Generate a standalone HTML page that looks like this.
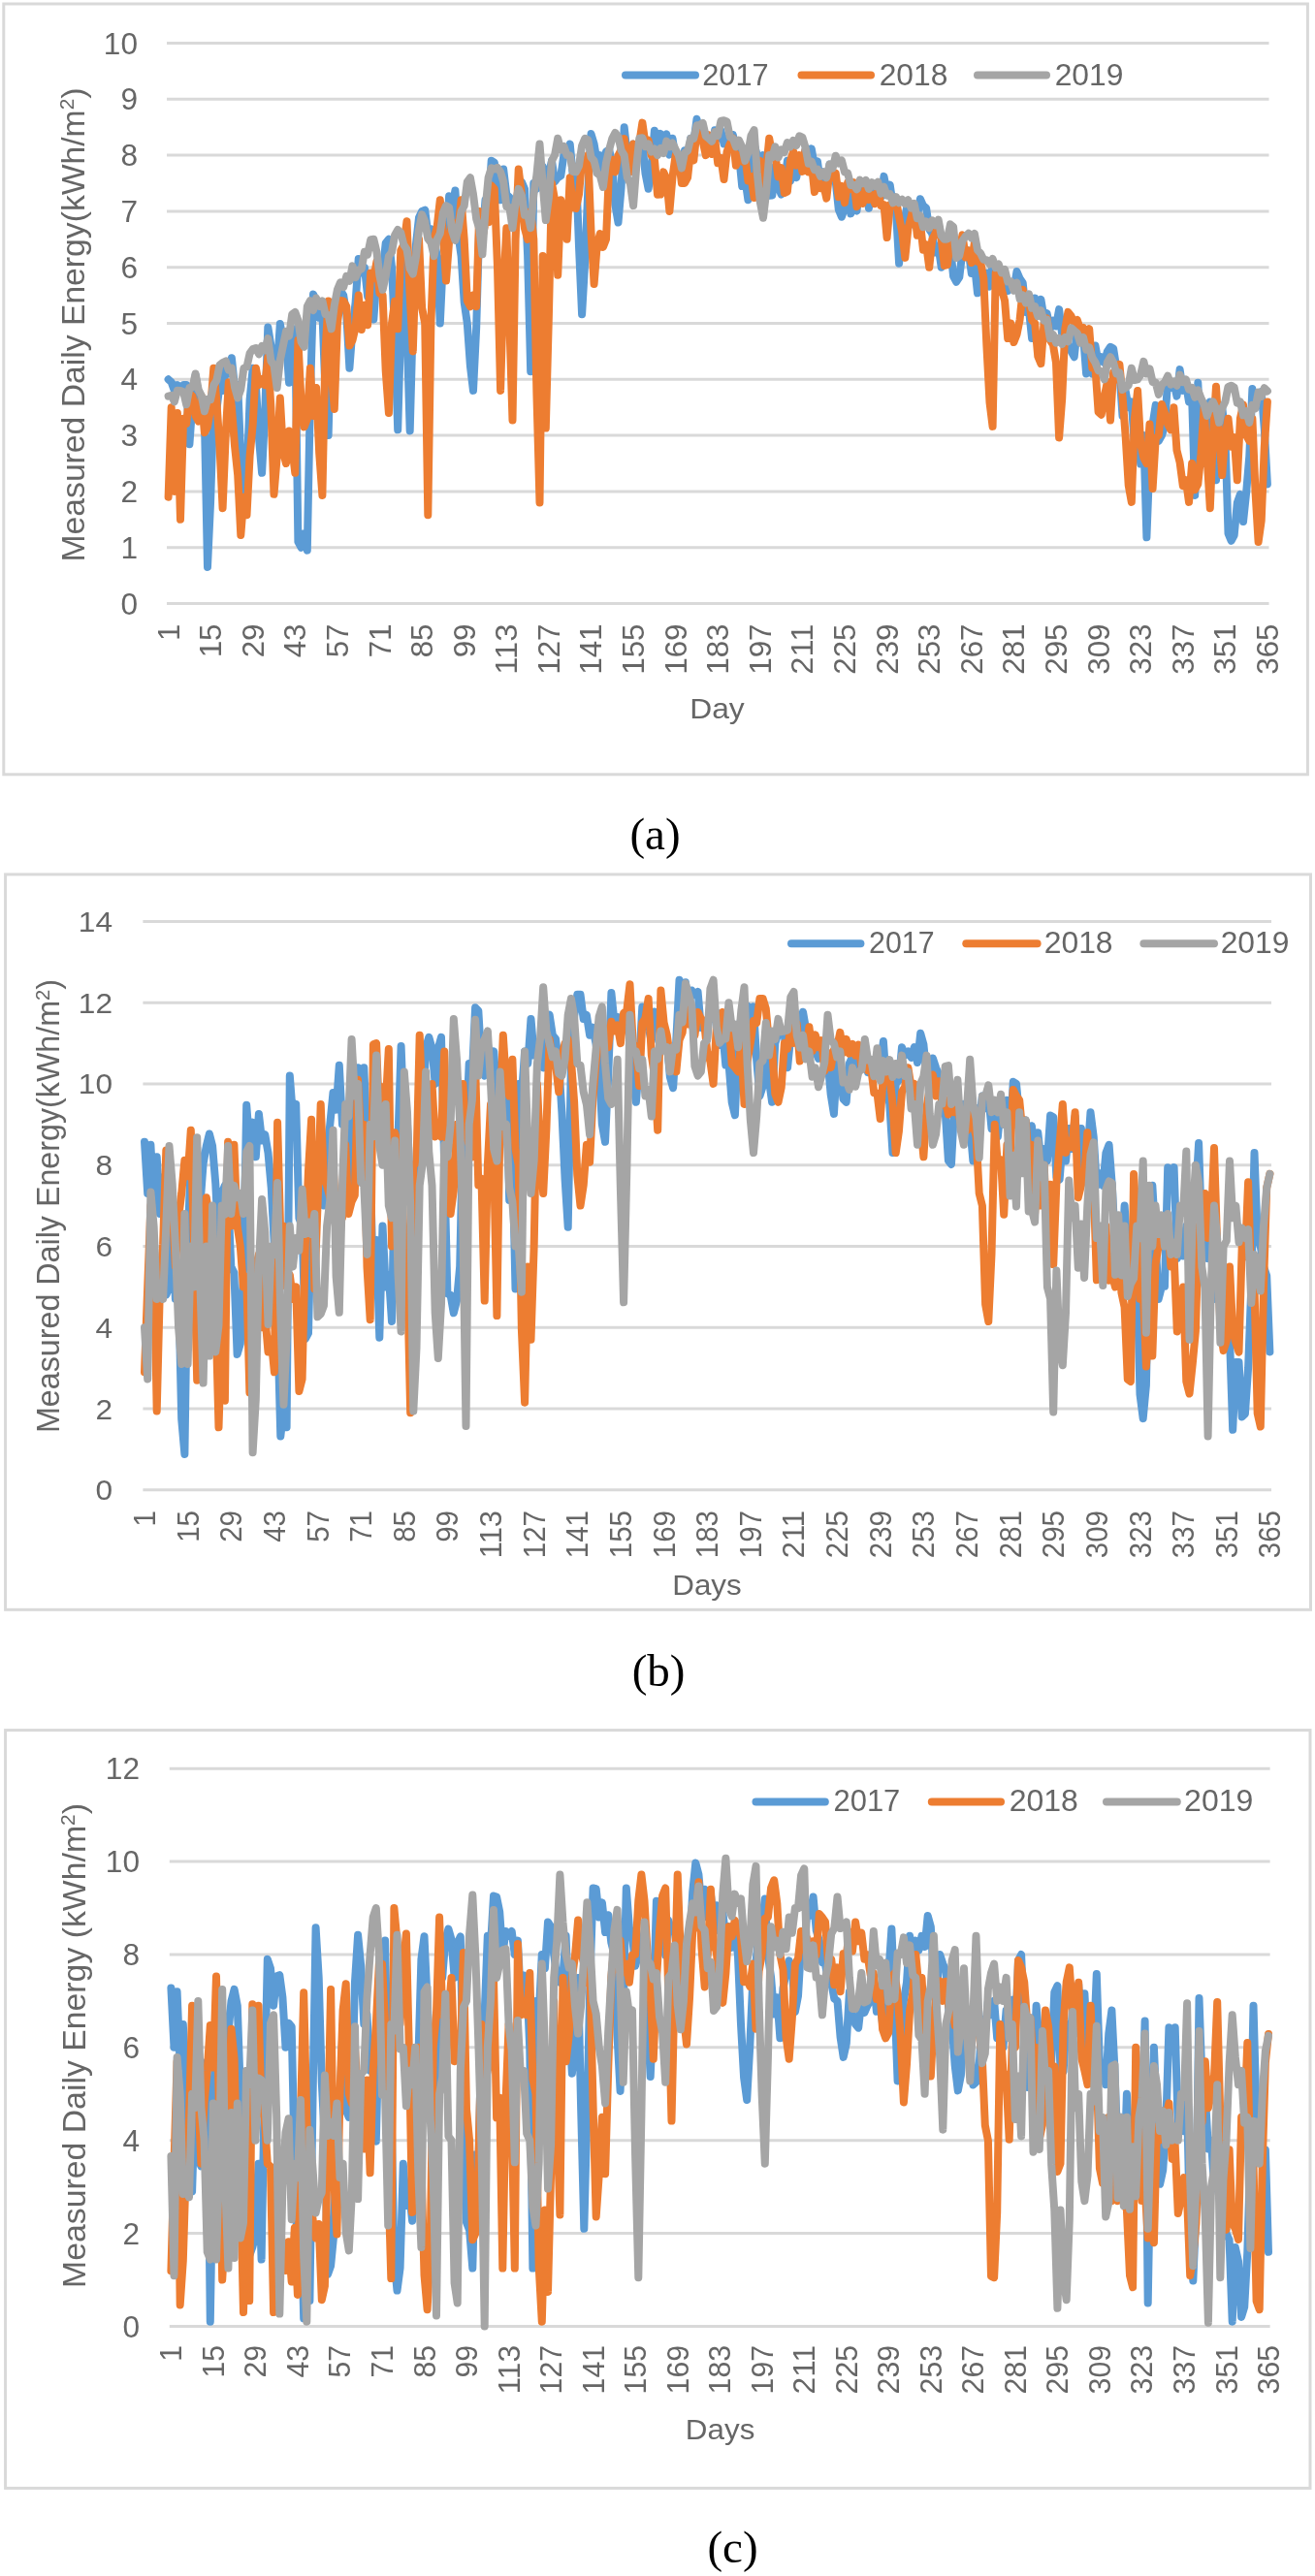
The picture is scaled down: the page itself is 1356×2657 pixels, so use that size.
<!DOCTYPE html>
<html><head><meta charset="utf-8"><title>Measured Daily Energy</title>
<style>html,body{margin:0;padding:0;background:#fff;}svg{display:block;}</style></head>
<body>
<svg width="1356" height="2657" viewBox="0 0 1356 2657" style="filter:blur(0.45px)">
<rect x="0" y="0" width="1356" height="2657" fill="#fff"/>
<rect x="3.8" y="4.0" width="1344.6000000000001" height="794.8" fill="#fff" stroke="#D9D9D9" stroke-width="3"/>
<line x1="172" y1="622.50" x2="1308.5" y2="622.50" stroke="#D9D9D9" stroke-width="3"/>
<text x="142" y="633.50" text-anchor="end" font-family="Liberation Sans, sans-serif" font-size="31.5" fill="#666666" textLength="17.6" lengthAdjust="spacingAndGlyphs">0</text>
<line x1="172" y1="564.70" x2="1308.5" y2="564.70" stroke="#D9D9D9" stroke-width="3"/>
<text x="142" y="575.70" text-anchor="end" font-family="Liberation Sans, sans-serif" font-size="31.5" fill="#666666" textLength="17.6" lengthAdjust="spacingAndGlyphs">1</text>
<line x1="172" y1="506.90" x2="1308.5" y2="506.90" stroke="#D9D9D9" stroke-width="3"/>
<text x="142" y="517.90" text-anchor="end" font-family="Liberation Sans, sans-serif" font-size="31.5" fill="#666666" textLength="17.6" lengthAdjust="spacingAndGlyphs">2</text>
<line x1="172" y1="449.10" x2="1308.5" y2="449.10" stroke="#D9D9D9" stroke-width="3"/>
<text x="142" y="460.10" text-anchor="end" font-family="Liberation Sans, sans-serif" font-size="31.5" fill="#666666" textLength="17.6" lengthAdjust="spacingAndGlyphs">3</text>
<line x1="172" y1="391.30" x2="1308.5" y2="391.30" stroke="#D9D9D9" stroke-width="3"/>
<text x="142" y="402.30" text-anchor="end" font-family="Liberation Sans, sans-serif" font-size="31.5" fill="#666666" textLength="17.6" lengthAdjust="spacingAndGlyphs">4</text>
<line x1="172" y1="333.50" x2="1308.5" y2="333.50" stroke="#D9D9D9" stroke-width="3"/>
<text x="142" y="344.50" text-anchor="end" font-family="Liberation Sans, sans-serif" font-size="31.5" fill="#666666" textLength="17.6" lengthAdjust="spacingAndGlyphs">5</text>
<line x1="172" y1="275.70" x2="1308.5" y2="275.70" stroke="#D9D9D9" stroke-width="3"/>
<text x="142" y="286.70" text-anchor="end" font-family="Liberation Sans, sans-serif" font-size="31.5" fill="#666666" textLength="17.6" lengthAdjust="spacingAndGlyphs">6</text>
<line x1="172" y1="217.90" x2="1308.5" y2="217.90" stroke="#D9D9D9" stroke-width="3"/>
<text x="142" y="228.90" text-anchor="end" font-family="Liberation Sans, sans-serif" font-size="31.5" fill="#666666" textLength="17.6" lengthAdjust="spacingAndGlyphs">7</text>
<line x1="172" y1="160.10" x2="1308.5" y2="160.10" stroke="#D9D9D9" stroke-width="3"/>
<text x="142" y="171.10" text-anchor="end" font-family="Liberation Sans, sans-serif" font-size="31.5" fill="#666666" textLength="17.6" lengthAdjust="spacingAndGlyphs">8</text>
<line x1="172" y1="102.30" x2="1308.5" y2="102.30" stroke="#D9D9D9" stroke-width="3"/>
<text x="142" y="113.30" text-anchor="end" font-family="Liberation Sans, sans-serif" font-size="31.5" fill="#666666" textLength="17.6" lengthAdjust="spacingAndGlyphs">9</text>
<line x1="172" y1="44.50" x2="1308.5" y2="44.50" stroke="#D9D9D9" stroke-width="3"/>
<text x="142" y="55.50" text-anchor="end" font-family="Liberation Sans, sans-serif" font-size="31.5" fill="#666666" textLength="35.2" lengthAdjust="spacingAndGlyphs">10</text>
<polyline points="173.6,391.3 176.7,394.2 179.8,402.9 182.9,397.1 186.0,402.9 189.1,397.1 192.2,397.1 195.4,458.3 198.5,414.4 201.6,386.9 204.7,408.6 207.8,426.0 210.9,431.8 214.0,584.9 217.1,517.4 220.3,417.3 223.4,423.1 226.5,397.1 229.6,402.9 232.7,379.7 235.8,385.5 238.9,369.3 242.1,400.3 245.2,397.1 248.3,471.3 251.4,506.9 254.5,489.6 257.6,412.4 260.7,379.7 263.9,397.1 267.0,452.0 270.1,487.8 273.2,426.0 276.3,337.5 279.4,356.6 282.5,365.7 285.6,382.6 288.8,334.1 291.9,350.8 295.0,352.4 298.1,394.8 301.2,358.5 304.3,339.3 307.4,558.9 310.6,564.7 313.7,550.2 316.8,567.6 319.9,410.1 323.0,303.4 326.1,310.4 329.2,327.7 332.4,321.9 335.5,404.5 338.6,449.1 341.7,333.5 344.8,311.3 347.9,310.4 351.0,299.4 354.2,304.6 357.3,324.7 360.4,379.7 363.5,339.3 366.6,312.0 369.7,267.0 372.8,281.5 375.9,275.7 379.1,305.8 382.2,303.2 385.3,329.5 388.4,286.3 391.5,275.7 394.6,281.5 397.7,250.8 400.9,246.8 404.0,275.7 407.1,342.3 410.2,443.3 413.3,334.3 416.4,264.1 419.5,337.4 422.7,444.5 425.8,328.7 428.9,252.6 432.0,224.5 435.1,217.9 438.2,216.6 441.3,241.0 444.4,236.1 447.6,246.8 450.7,264.2 453.8,333.5 456.9,266.7 460.0,266.7 463.1,202.3 466.2,213.6 469.4,196.5 472.5,242.3 475.6,264.1 478.7,311.9 481.8,333.5 484.9,377.3 488.0,402.9 491.2,337.9 494.3,229.5 497.4,245.1 500.5,206.3 503.6,212.1 506.7,165.7 509.8,167.6 513.0,189.0 516.1,206.3 519.2,174.6 522.3,200.6 525.4,203.5 528.5,217.9 531.6,206.3 534.7,212.1 537.9,187.6 541.0,194.8 544.1,263.3 547.2,383.2 550.3,189.0 553.4,194.8 556.5,168.3 559.7,171.7 562.8,209.8 565.9,179.2 569.0,165.9 572.1,187.3 575.2,183.2 578.3,181.4 581.5,159.2 584.6,160.1 587.7,148.5 590.8,181.2 593.9,171.7 597.0,254.1 600.1,324.3 603.2,269.9 606.4,194.2 609.5,138.1 612.6,148.5 615.7,166.7 618.8,160.1 621.9,175.7 625.0,156.3 628.2,154.3 631.3,169.4 634.4,211.4 637.5,229.5 640.6,193.5 643.7,131.2 646.8,160.1 650.0,177.4 653.1,148.5 656.2,160.1 659.3,158.2 662.4,148.5 665.5,178.9 668.6,194.8 671.7,172.6 674.9,134.7 678.0,155.1 681.1,137.9 684.2,148.5 687.3,138.3 690.4,159.6 693.5,142.8 696.7,163.5 699.8,160.4 702.9,183.2 706.0,155.2 709.1,168.4 712.2,142.8 715.3,146.8 718.5,122.8 721.6,137.0 724.7,131.6 727.8,148.6 730.9,142.8 734.0,156.4 737.1,134.2 740.2,142.8 743.4,134.5 746.5,148.4 749.6,142.8 752.7,152.5 755.8,139.0 758.9,154.3 762.0,159.7 765.2,192.0 768.3,184.3 771.4,206.3 774.5,167.5 777.6,148.5 780.7,160.1 783.8,183.8 787.0,160.1 790.1,192.3 793.2,201.7 796.3,201.4 799.4,171.7 802.5,193.0 805.6,200.6 808.8,189.8 811.9,165.9 815.0,186.8 818.1,163.3 821.2,183.2 824.3,165.9 827.4,171.0 830.5,154.3 833.7,173.3 836.8,153.4 839.9,171.7 843.0,166.5 846.1,191.1 849.2,177.4 852.3,194.2 855.5,169.6 858.6,183.2 861.7,187.1 864.8,216.2 867.9,223.7 871.0,214.5 874.1,194.8 877.3,220.4 880.4,214.4 883.5,217.4 886.6,192.3 889.7,200.6 892.8,192.8 895.9,214.7 899.0,188.9 902.2,200.6 905.3,190.4 908.4,203.5 911.5,181.9 914.6,198.3 917.7,190.7 920.8,211.8 924.0,217.9 927.1,271.7 930.2,236.5 933.3,223.7 936.4,207.2 939.5,231.6 942.6,217.9 945.8,224.0 948.9,205.2 952.0,212.1 955.1,214.6 958.2,236.4 961.3,241.0 964.4,260.5 967.6,254.2 970.7,275.7 973.8,255.7 976.9,246.8 980.0,254.6 983.1,285.1 986.2,290.7 989.3,285.9 992.5,258.4 995.6,264.7 998.7,258.4 1001.8,282.0 1004.9,272.7 1008.0,302.3 1011.1,275.7 1014.3,294.6 1017.4,281.5 1020.5,295.7 1023.6,272.6 1026.7,287.3 1029.8,277.7 1032.9,297.6 1036.1,293.0 1039.2,300.2 1042.3,291.8 1045.4,298.8 1048.5,280.0 1051.6,287.3 1054.7,291.8 1057.8,321.9 1061.0,319.8 1064.1,349.1 1067.2,307.5 1070.3,319.3 1073.4,308.9 1076.5,327.7 1079.6,323.2 1082.8,339.3 1085.9,330.6 1089.0,336.4 1092.1,319.1 1095.2,345.3 1098.3,339.3 1101.4,356.5 1104.6,362.4 1107.7,368.2 1110.8,339.3 1113.9,350.8 1117.0,345.1 1120.1,385.5 1123.2,379.7 1126.3,385.5 1129.5,356.6 1132.6,374.0 1135.7,368.2 1138.8,374.0 1141.9,362.4 1145.0,357.8 1148.1,359.5 1151.3,379.7 1154.4,384.0 1157.5,428.9 1160.6,402.9 1163.7,420.2 1166.8,414.4 1169.9,459.5 1173.1,441.8 1176.2,478.6 1179.3,449.1 1182.4,554.3 1185.5,473.7 1188.6,437.5 1191.7,417.9 1194.8,454.9 1198.0,449.1 1201.1,439.4 1204.2,391.3 1207.3,400.0 1210.4,394.2 1213.5,408.6 1216.6,381.1 1219.8,402.9 1222.9,395.5 1226.0,414.4 1229.1,408.6 1232.2,510.9 1235.3,394.8 1238.4,462.3 1241.6,478.0 1244.7,470.0 1247.8,414.4 1250.9,475.9 1254.0,495.3 1257.1,420.2 1260.2,419.8 1263.4,449.1 1266.5,550.2 1269.6,557.8 1272.7,552.0 1275.8,518.5 1278.9,509.9 1282.0,538.1 1285.1,508.6 1288.3,470.7 1291.4,401.1 1294.5,420.2 1297.6,414.4 1300.7,404.0 1303.8,442.4 1306.9,499.4" fill="none" stroke="#5B9BD5" stroke-width="8" stroke-linejoin="round" stroke-linecap="round"/>
<polyline points="173.6,512.7 176.7,420.2 179.8,506.9 182.9,426.0 186.0,535.8 189.1,431.8 192.2,437.0 195.4,405.8 198.5,408.6 201.6,428.9 204.7,434.6 207.8,408.6 210.9,446.2 214.0,440.4 217.1,421.6 220.3,379.7 223.4,414.4 226.5,460.4 229.6,524.2 232.7,449.1 235.8,394.2 238.9,420.2 242.1,460.7 245.2,490.1 248.3,552.0 251.4,512.7 254.5,531.2 257.6,470.1 260.7,437.5 263.9,379.7 267.0,397.1 270.1,391.3 273.2,397.1 276.3,368.2 279.4,420.2 282.5,509.8 285.6,472.2 288.8,410.4 291.9,465.0 295.0,478.0 298.1,444.5 301.2,460.7 304.3,487.8 307.4,350.8 310.6,415.6 313.7,440.4 316.8,432.1 319.9,379.7 323.0,428.9 326.1,400.0 329.2,467.1 332.4,510.9 335.5,362.4 338.6,310.4 341.7,383.7 344.8,421.9 347.9,333.5 351.0,310.0 354.2,310.4 357.3,316.2 360.4,356.6 363.5,350.8 366.6,337.6 369.7,304.6 372.8,340.0 375.9,314.8 379.1,335.2 382.2,281.5 385.3,287.3 388.4,269.9 391.5,302.7 394.6,304.6 397.7,382.1 400.9,426.0 404.0,333.5 407.1,310.7 410.2,339.3 413.3,258.4 416.4,252.4 419.5,228.3 422.7,305.3 425.8,362.4 428.9,264.1 432.0,246.8 435.1,317.3 438.2,333.5 441.3,531.2 444.4,333.5 447.6,246.8 450.7,233.8 453.8,206.3 456.9,241.0 460.0,289.6 463.1,249.0 466.2,229.5 469.4,230.6 472.5,235.2 475.6,206.3 478.7,246.8 481.8,310.4 484.9,316.2 488.0,304.6 491.2,316.2 494.3,217.9 497.4,245.1 500.5,229.5 503.6,229.3 506.7,191.3 509.8,194.8 513.0,275.7 516.1,402.9 519.2,297.8 522.3,235.2 525.4,333.5 528.5,433.5 531.6,246.8 534.7,174.6 537.9,200.6 541.0,235.7 544.1,246.8 547.2,217.9 550.3,246.8 553.4,405.4 556.5,518.5 559.7,264.1 562.8,441.6 565.9,325.0 569.0,189.0 572.1,206.3 575.2,283.8 578.3,206.3 581.5,219.3 584.6,246.8 587.7,183.2 590.8,214.2 593.9,215.0 597.0,200.5 600.1,165.9 603.2,173.3 606.4,160.1 609.5,239.0 612.6,293.0 615.7,252.6 618.8,241.0 621.9,254.9 625.0,246.8 628.2,171.7 631.3,164.7 634.4,177.4 637.5,160.3 640.6,154.3 643.7,143.2 646.8,160.1 650.0,177.4 653.1,148.5 656.2,160.1 659.3,147.2 662.4,126.6 665.5,148.5 668.6,144.8 671.7,160.1 674.9,164.0 678.0,200.7 681.1,200.6 684.2,177.4 687.3,184.3 690.4,217.9 693.5,182.4 696.7,160.1 699.8,161.7 702.9,189.0 706.0,189.0 709.1,183.1 712.2,154.3 715.3,165.5 718.5,135.3 721.6,142.8 724.7,145.9 727.8,160.1 730.9,139.1 734.0,159.0 737.1,142.8 740.2,168.3 743.4,163.0 746.5,185.0 749.6,156.4 752.7,148.5 755.8,142.5 758.9,170.8 762.0,160.1 765.2,166.5 768.3,160.1 771.4,186.6 774.5,182.0 777.6,204.0 780.7,171.3 783.8,165.9 787.0,207.5 790.1,175.1 793.2,142.8 796.3,160.8 799.4,160.1 802.5,182.4 805.6,173.1 808.8,199.1 811.9,197.7 815.0,165.9 818.1,156.2 821.2,170.7 824.3,160.1 827.4,176.9 830.5,154.8 833.7,177.4 836.8,168.3 839.9,198.1 843.0,183.2 846.1,194.2 849.2,190.7 852.3,204.6 855.5,176.1 858.6,183.2 861.7,178.6 864.8,203.3 867.9,191.9 871.0,209.1 874.1,188.5 877.3,194.8 880.4,188.2 883.5,213.2 886.6,200.6 889.7,209.9 892.8,192.4 895.9,205.9 899.0,200.6 902.2,210.1 905.3,195.6 908.4,212.1 911.5,211.4 914.6,245.1 917.7,211.3 920.8,212.1 924.0,206.6 927.1,223.7 930.2,239.3 933.3,265.9 936.4,235.7 939.5,223.7 942.6,210.8 945.8,242.8 948.9,229.5 952.0,257.8 955.1,252.3 958.2,275.7 961.3,246.8 964.4,241.0 967.6,232.9 970.7,246.8 973.8,274.0 976.9,273.2 980.0,246.8 983.1,259.0 986.2,248.5 989.3,258.4 992.5,242.3 995.6,265.5 998.7,258.4 1001.8,271.0 1004.9,250.3 1008.0,269.9 1011.1,270.0 1014.3,287.3 1017.4,356.6 1020.5,414.9 1023.6,439.9 1026.7,281.5 1029.8,278.7 1032.9,298.8 1036.1,310.3 1039.2,349.1 1042.3,333.5 1045.4,353.0 1048.5,345.1 1051.6,329.7 1054.7,298.8 1057.8,313.3 1061.0,310.4 1064.1,330.2 1067.2,333.5 1070.3,367.8 1073.4,375.1 1076.5,333.5 1079.6,328.5 1082.8,350.8 1085.9,355.6 1089.0,374.0 1092.1,451.4 1095.2,411.3 1098.3,339.3 1101.4,321.9 1104.6,326.0 1107.7,333.5 1110.8,330.0 1113.9,339.3 1117.0,337.9 1120.1,345.1 1123.2,339.3 1126.3,379.5 1129.5,379.7 1132.6,425.0 1135.7,427.7 1138.8,408.6 1141.9,393.8 1145.0,433.5 1148.1,384.3 1151.3,391.3 1154.4,375.9 1157.5,408.6 1160.6,449.1 1163.7,500.6 1166.8,517.9 1169.9,431.8 1173.1,402.9 1176.2,458.1 1179.3,472.2 1182.4,478.0 1185.5,437.5 1188.6,504.0 1191.7,451.9 1194.8,449.1 1198.0,417.1 1201.1,426.0 1204.2,437.5 1207.3,443.3 1210.4,420.2 1213.5,464.6 1216.6,476.8 1219.8,501.1 1222.9,495.3 1226.0,517.9 1229.1,478.0 1232.2,505.2 1235.3,499.4 1238.4,468.8 1241.6,420.2 1244.7,472.2 1247.8,524.2 1250.9,449.1 1254.0,398.8 1257.1,449.1 1260.2,490.1 1263.4,449.1 1266.5,431.8 1269.6,460.7 1272.7,451.0 1275.8,495.3 1278.9,431.5 1282.0,417.3 1285.1,449.1 1288.3,454.9 1291.4,431.8 1294.5,506.9 1297.6,558.9 1300.7,536.9 1303.8,460.7 1306.9,414.4" fill="none" stroke="#ED7D31" stroke-width="8" stroke-linejoin="round" stroke-linecap="round"/>
<polyline points="173.6,408.6 176.7,407.9 179.8,414.4 182.9,402.8 186.0,402.9 189.1,404.2 192.2,417.3 195.4,400.0 198.5,399.3 201.6,385.5 204.7,401.9 207.8,408.3 210.9,424.2 214.0,411.8 217.1,412.3 220.3,397.1 223.4,392.3 226.5,376.6 229.6,374.0 232.7,372.5 235.8,381.6 238.9,379.7 242.1,399.6 245.2,410.4 248.3,401.7 251.4,379.7 254.5,378.6 257.6,364.3 260.7,360.1 263.9,359.0 267.0,365.3 270.1,356.9 273.2,361.3 276.3,349.1 279.4,372.6 282.5,376.5 285.6,400.0 288.8,371.7 291.9,356.6 295.0,341.8 298.1,346.5 301.2,324.2 304.3,321.9 307.4,330.3 310.6,352.6 313.7,357.8 316.8,316.2 319.9,310.2 323.0,320.1 326.1,307.5 329.2,316.0 332.4,310.4 335.5,324.2 338.6,325.1 341.7,339.3 344.8,315.1 347.9,298.8 351.0,291.3 354.2,296.1 357.3,284.9 360.4,289.8 363.5,274.3 366.6,286.1 369.7,278.6 372.8,277.4 375.9,259.7 379.1,262.5 382.2,247.3 385.3,246.8 388.4,259.6 391.5,284.7 394.6,298.8 397.7,284.8 400.9,264.1 404.0,260.1 407.1,242.4 410.2,237.0 413.3,240.1 416.4,252.6 419.5,257.2 422.7,277.0 425.8,282.6 428.9,265.2 432.0,237.0 435.1,221.4 438.2,228.6 441.3,246.2 444.4,250.2 447.6,264.1 450.7,247.0 453.8,240.8 456.9,219.4 460.0,212.1 463.1,213.9 466.2,238.2 469.4,248.0 472.5,237.2 475.6,217.9 478.7,212.4 481.8,187.6 484.9,183.2 488.0,200.5 491.2,225.8 494.3,236.1 497.4,262.4 500.5,216.2 503.6,183.2 506.7,173.3 509.8,174.6 513.0,172.9 516.1,177.4 519.2,187.5 522.3,213.2 525.4,213.9 528.5,235.2 531.6,208.5 534.7,194.8 537.9,201.6 541.0,221.8 544.1,220.9 547.2,235.2 550.3,200.6 553.4,180.6 556.5,148.5 559.7,190.8 562.8,227.1 565.9,203.9 569.0,165.9 572.1,159.7 575.2,142.8 578.3,154.6 581.5,151.0 584.6,160.1 587.7,160.4 590.8,177.0 593.9,177.4 597.0,171.2 600.1,150.2 603.2,142.8 606.4,144.4 609.5,162.2 612.6,165.9 615.7,178.7 618.8,180.9 621.9,193.0 625.0,167.8 628.2,154.3 631.3,142.8 634.4,137.0 637.5,141.2 640.6,155.0 643.7,160.1 646.8,183.1 650.0,189.6 653.1,212.1 656.2,172.3 659.3,142.8 662.4,142.2 665.5,151.2 668.6,148.5 671.7,156.5 674.9,153.5 678.0,160.1 681.1,153.0 684.2,158.0 687.3,145.7 690.4,151.4 693.5,147.6 696.7,154.3 699.8,160.2 702.9,173.4 706.0,157.8 709.1,155.6 712.2,142.8 715.3,142.9 718.5,129.3 721.6,128.9 724.7,126.9 727.8,140.4 730.9,142.8 734.0,145.8 737.1,136.0 740.2,139.9 743.4,124.7 746.5,124.3 749.6,125.5 752.7,141.3 755.8,142.8 758.9,151.4 762.0,144.7 765.2,151.4 768.3,165.9 771.4,157.7 774.5,139.8 777.6,134.1 780.7,177.4 783.8,208.2 787.0,224.8 790.1,198.6 793.2,160.1 796.3,162.3 799.4,151.4 802.5,162.5 805.6,154.3 808.8,157.0 811.9,147.0 815.0,151.4 818.1,144.8 821.2,150.1 824.3,140.3 827.4,141.6 830.5,151.9 833.7,168.8 836.8,166.6 839.9,175.1 843.0,174.6 846.1,181.8 849.2,177.6 852.3,183.2 855.5,169.5 858.6,173.6 861.7,160.7 864.8,168.5 867.9,165.5 871.0,177.4 874.1,178.6 877.3,191.1 880.4,190.7 883.5,195.3 886.6,185.6 889.7,189.0 892.8,185.9 895.9,195.0 899.0,188.2 902.2,191.9 905.3,187.6 908.4,199.6 911.5,192.7 914.6,201.7 917.7,200.2 920.8,209.3 924.0,203.1 927.1,209.2 930.2,205.8 933.3,210.2 936.4,206.3 939.5,214.5 942.6,209.9 945.8,225.3 948.9,222.5 952.0,234.2 955.1,228.5 958.2,235.2 961.3,227.3 964.4,232.4 967.6,226.6 970.7,243.2 973.8,246.8 976.9,246.5 980.0,231.4 983.1,234.1 986.2,265.9 989.3,263.7 992.5,248.3 995.6,243.9 998.7,240.7 1001.8,245.5 1004.9,241.0 1008.0,258.0 1011.1,261.2 1014.3,267.8 1017.4,268.2 1020.5,272.4 1023.6,267.0 1026.7,276.1 1029.8,272.6 1032.9,281.5 1036.1,277.9 1039.2,290.6 1042.3,290.2 1045.4,299.8 1048.5,291.6 1051.6,308.2 1054.7,304.6 1057.8,312.5 1061.0,303.3 1064.1,317.8 1067.2,316.2 1070.3,326.2 1073.4,320.3 1076.5,330.6 1079.6,329.7 1082.8,349.1 1085.9,345.1 1089.0,353.7 1092.1,348.8 1095.2,354.9 1098.3,347.9 1101.4,352.2 1104.6,338.3 1107.7,341.0 1110.8,343.5 1113.9,353.7 1117.0,348.0 1120.1,360.6 1123.2,358.4 1126.3,368.9 1129.5,374.0 1132.6,382.3 1135.7,383.1 1138.8,391.3 1141.9,373.7 1145.0,368.2 1148.1,374.0 1151.3,385.5 1154.4,384.3 1157.5,402.0 1160.6,400.0 1163.7,397.4 1166.8,379.7 1169.9,392.0 1173.1,391.3 1176.2,386.5 1179.3,372.8 1182.4,385.5 1185.5,380.4 1188.6,394.2 1191.7,394.5 1194.8,406.9 1198.0,396.8 1201.1,394.2 1204.2,387.7 1207.3,396.6 1210.4,393.6 1213.5,397.7 1216.6,386.5 1219.8,394.2 1222.9,391.4 1226.0,401.7 1229.1,400.0 1232.2,409.8 1235.3,402.3 1238.4,410.4 1241.6,417.3 1244.7,428.9 1247.8,419.2 1250.9,414.4 1254.0,421.5 1257.1,435.8 1260.2,421.1 1263.4,414.4 1266.5,398.9 1269.6,397.7 1272.7,399.7 1275.8,415.6 1278.9,414.4 1282.0,428.3 1285.1,424.2 1288.3,435.8 1291.4,417.9 1294.5,421.3 1297.6,404.6 1300.7,409.0 1303.8,400.2 1306.9,403.4" fill="none" stroke="#A5A5A5" stroke-width="8" stroke-linejoin="round" stroke-linecap="round"/>
<text transform="translate(184.56,643.5) rotate(-90)" text-anchor="end" font-family="Liberation Sans, sans-serif" font-size="31.5" fill="#666666" textLength="17.4" lengthAdjust="spacingAndGlyphs">1</text>
<text transform="translate(228.15,643.5) rotate(-90)" text-anchor="end" font-family="Liberation Sans, sans-serif" font-size="31.5" fill="#666666" textLength="34.8" lengthAdjust="spacingAndGlyphs">15</text>
<text transform="translate(271.74,643.5) rotate(-90)" text-anchor="end" font-family="Liberation Sans, sans-serif" font-size="31.5" fill="#666666" textLength="34.8" lengthAdjust="spacingAndGlyphs">29</text>
<text transform="translate(315.33,643.5) rotate(-90)" text-anchor="end" font-family="Liberation Sans, sans-serif" font-size="31.5" fill="#666666" textLength="34.8" lengthAdjust="spacingAndGlyphs">43</text>
<text transform="translate(358.92,643.5) rotate(-90)" text-anchor="end" font-family="Liberation Sans, sans-serif" font-size="31.5" fill="#666666" textLength="34.8" lengthAdjust="spacingAndGlyphs">57</text>
<text transform="translate(402.52,643.5) rotate(-90)" text-anchor="end" font-family="Liberation Sans, sans-serif" font-size="31.5" fill="#666666" textLength="34.8" lengthAdjust="spacingAndGlyphs">71</text>
<text transform="translate(446.11,643.5) rotate(-90)" text-anchor="end" font-family="Liberation Sans, sans-serif" font-size="31.5" fill="#666666" textLength="34.8" lengthAdjust="spacingAndGlyphs">85</text>
<text transform="translate(489.70,643.5) rotate(-90)" text-anchor="end" font-family="Liberation Sans, sans-serif" font-size="31.5" fill="#666666" textLength="34.8" lengthAdjust="spacingAndGlyphs">99</text>
<text transform="translate(533.29,643.5) rotate(-90)" text-anchor="end" font-family="Liberation Sans, sans-serif" font-size="31.5" fill="#666666" textLength="52.2" lengthAdjust="spacingAndGlyphs">113</text>
<text transform="translate(576.88,643.5) rotate(-90)" text-anchor="end" font-family="Liberation Sans, sans-serif" font-size="31.5" fill="#666666" textLength="52.2" lengthAdjust="spacingAndGlyphs">127</text>
<text transform="translate(620.47,643.5) rotate(-90)" text-anchor="end" font-family="Liberation Sans, sans-serif" font-size="31.5" fill="#666666" textLength="52.2" lengthAdjust="spacingAndGlyphs">141</text>
<text transform="translate(664.07,643.5) rotate(-90)" text-anchor="end" font-family="Liberation Sans, sans-serif" font-size="31.5" fill="#666666" textLength="52.2" lengthAdjust="spacingAndGlyphs">155</text>
<text transform="translate(707.66,643.5) rotate(-90)" text-anchor="end" font-family="Liberation Sans, sans-serif" font-size="31.5" fill="#666666" textLength="52.2" lengthAdjust="spacingAndGlyphs">169</text>
<text transform="translate(751.25,643.5) rotate(-90)" text-anchor="end" font-family="Liberation Sans, sans-serif" font-size="31.5" fill="#666666" textLength="52.2" lengthAdjust="spacingAndGlyphs">183</text>
<text transform="translate(794.84,643.5) rotate(-90)" text-anchor="end" font-family="Liberation Sans, sans-serif" font-size="31.5" fill="#666666" textLength="52.2" lengthAdjust="spacingAndGlyphs">197</text>
<text transform="translate(838.43,643.5) rotate(-90)" text-anchor="end" font-family="Liberation Sans, sans-serif" font-size="31.5" fill="#666666" textLength="52.2" lengthAdjust="spacingAndGlyphs">211</text>
<text transform="translate(882.03,643.5) rotate(-90)" text-anchor="end" font-family="Liberation Sans, sans-serif" font-size="31.5" fill="#666666" textLength="52.2" lengthAdjust="spacingAndGlyphs">225</text>
<text transform="translate(925.62,643.5) rotate(-90)" text-anchor="end" font-family="Liberation Sans, sans-serif" font-size="31.5" fill="#666666" textLength="52.2" lengthAdjust="spacingAndGlyphs">239</text>
<text transform="translate(969.21,643.5) rotate(-90)" text-anchor="end" font-family="Liberation Sans, sans-serif" font-size="31.5" fill="#666666" textLength="52.2" lengthAdjust="spacingAndGlyphs">253</text>
<text transform="translate(1012.80,643.5) rotate(-90)" text-anchor="end" font-family="Liberation Sans, sans-serif" font-size="31.5" fill="#666666" textLength="52.2" lengthAdjust="spacingAndGlyphs">267</text>
<text transform="translate(1056.39,643.5) rotate(-90)" text-anchor="end" font-family="Liberation Sans, sans-serif" font-size="31.5" fill="#666666" textLength="52.2" lengthAdjust="spacingAndGlyphs">281</text>
<text transform="translate(1099.98,643.5) rotate(-90)" text-anchor="end" font-family="Liberation Sans, sans-serif" font-size="31.5" fill="#666666" textLength="52.2" lengthAdjust="spacingAndGlyphs">295</text>
<text transform="translate(1143.58,643.5) rotate(-90)" text-anchor="end" font-family="Liberation Sans, sans-serif" font-size="31.5" fill="#666666" textLength="52.2" lengthAdjust="spacingAndGlyphs">309</text>
<text transform="translate(1187.17,643.5) rotate(-90)" text-anchor="end" font-family="Liberation Sans, sans-serif" font-size="31.5" fill="#666666" textLength="52.2" lengthAdjust="spacingAndGlyphs">323</text>
<text transform="translate(1230.76,643.5) rotate(-90)" text-anchor="end" font-family="Liberation Sans, sans-serif" font-size="31.5" fill="#666666" textLength="52.2" lengthAdjust="spacingAndGlyphs">337</text>
<text transform="translate(1274.35,643.5) rotate(-90)" text-anchor="end" font-family="Liberation Sans, sans-serif" font-size="31.5" fill="#666666" textLength="52.2" lengthAdjust="spacingAndGlyphs">351</text>
<text transform="translate(1317.94,643.5) rotate(-90)" text-anchor="end" font-family="Liberation Sans, sans-serif" font-size="31.5" fill="#666666" textLength="52.2" lengthAdjust="spacingAndGlyphs">365</text>
<text x="739.5" y="740.5" text-anchor="middle" font-family="Liberation Sans, sans-serif" font-size="29.5" fill="#666666" textLength="56.5" lengthAdjust="spacingAndGlyphs">Day</text>
<text transform="translate(87,335) rotate(-90)" text-anchor="middle" font-family="Liberation Sans, sans-serif" font-size="32.8" fill="#666666" textLength="489" lengthAdjust="spacingAndGlyphs">Measured Daily Energy(kWh/m<tspan font-size="20.3" dy="-10.8">2</tspan><tspan dy="10.8">)</tspan></text>
<line x1="645" y1="77.5" x2="717" y2="77.5" stroke="#5B9BD5" stroke-width="8" stroke-linecap="round"/>
<text x="724.2" y="87.5" font-family="Liberation Sans, sans-serif" font-size="31.5" fill="#666666" textLength="68.4" lengthAdjust="spacingAndGlyphs">2017</text>
<line x1="826.5" y1="77.5" x2="898" y2="77.5" stroke="#ED7D31" stroke-width="8" stroke-linecap="round"/>
<text x="906.7" y="87.5" font-family="Liberation Sans, sans-serif" font-size="31.5" fill="#666666" textLength="70.7" lengthAdjust="spacingAndGlyphs">2018</text>
<line x1="1008" y1="77.5" x2="1079" y2="77.5" stroke="#A5A5A5" stroke-width="8" stroke-linecap="round"/>
<text x="1087.7" y="87.5" font-family="Liberation Sans, sans-serif" font-size="31.5" fill="#666666" textLength="70.7" lengthAdjust="spacingAndGlyphs">2019</text>
<text x="675.5" y="875.8" text-anchor="middle" font-family="Liberation Serif, serif" font-size="47" fill="#000">(a)</text>
<rect x="5.6" y="901.9" width="1345.9" height="758.4" fill="#fff" stroke="#D9D9D9" stroke-width="3"/>
<line x1="147.4" y1="1536.80" x2="1311" y2="1536.80" stroke="#D9D9D9" stroke-width="3"/>
<text x="116" y="1547.30" text-anchor="end" font-family="Liberation Sans, sans-serif" font-size="30" fill="#666666" textLength="17.6" lengthAdjust="spacingAndGlyphs">0</text>
<line x1="147.4" y1="1453.03" x2="1311" y2="1453.03" stroke="#D9D9D9" stroke-width="3"/>
<text x="116" y="1463.53" text-anchor="end" font-family="Liberation Sans, sans-serif" font-size="30" fill="#666666" textLength="17.6" lengthAdjust="spacingAndGlyphs">2</text>
<line x1="147.4" y1="1369.26" x2="1311" y2="1369.26" stroke="#D9D9D9" stroke-width="3"/>
<text x="116" y="1379.76" text-anchor="end" font-family="Liberation Sans, sans-serif" font-size="30" fill="#666666" textLength="17.6" lengthAdjust="spacingAndGlyphs">4</text>
<line x1="147.4" y1="1285.49" x2="1311" y2="1285.49" stroke="#D9D9D9" stroke-width="3"/>
<text x="116" y="1295.99" text-anchor="end" font-family="Liberation Sans, sans-serif" font-size="30" fill="#666666" textLength="17.6" lengthAdjust="spacingAndGlyphs">6</text>
<line x1="147.4" y1="1201.71" x2="1311" y2="1201.71" stroke="#D9D9D9" stroke-width="3"/>
<text x="116" y="1212.21" text-anchor="end" font-family="Liberation Sans, sans-serif" font-size="30" fill="#666666" textLength="17.6" lengthAdjust="spacingAndGlyphs">8</text>
<line x1="147.4" y1="1117.94" x2="1311" y2="1117.94" stroke="#D9D9D9" stroke-width="3"/>
<text x="116" y="1128.44" text-anchor="end" font-family="Liberation Sans, sans-serif" font-size="30" fill="#666666" textLength="35.2" lengthAdjust="spacingAndGlyphs">10</text>
<line x1="147.4" y1="1034.17" x2="1311" y2="1034.17" stroke="#D9D9D9" stroke-width="3"/>
<text x="116" y="1044.67" text-anchor="end" font-family="Liberation Sans, sans-serif" font-size="30" fill="#666666" textLength="35.2" lengthAdjust="spacingAndGlyphs">12</text>
<line x1="147.4" y1="950.40" x2="1311" y2="950.40" stroke="#D9D9D9" stroke-width="3"/>
<text x="116" y="960.90" text-anchor="end" font-family="Liberation Sans, sans-serif" font-size="30" fill="#666666" textLength="35.2" lengthAdjust="spacingAndGlyphs">14</text>
<polyline points="149.0,1177.8 152.2,1231.0 155.4,1180.8 158.6,1243.6 161.7,1193.3 164.9,1252.0 168.1,1214.3 171.3,1335.7 174.5,1328.0 177.7,1264.5 180.9,1339.9 184.1,1327.4 187.2,1463.6 190.4,1499.9 193.6,1285.5 196.8,1192.6 200.0,1185.0 203.2,1184.0 206.4,1243.6 209.6,1200.2 212.8,1182.0 215.9,1169.5 219.1,1182.0 222.3,1221.2 225.5,1285.5 228.7,1231.0 231.9,1222.7 235.1,1233.4 238.3,1306.4 241.4,1312.7 244.6,1397.0 247.8,1386.0 251.0,1310.4 254.2,1139.7 257.4,1180.8 260.6,1157.6 263.8,1193.3 266.9,1148.9 270.1,1176.6 273.3,1170.3 276.5,1189.1 279.7,1224.8 282.9,1285.5 286.1,1361.4 289.3,1481.5 292.5,1453.0 295.6,1472.3 298.8,1109.6 302.0,1151.5 305.2,1138.9 308.4,1256.5 311.6,1264.5 314.8,1381.0 318.0,1375.1 321.1,1243.6 324.3,1199.6 327.5,1180.8 330.7,1190.5 333.9,1243.6 337.1,1189.1 340.3,1159.8 343.5,1126.9 346.6,1144.6 349.8,1098.7 353.0,1159.8 356.2,1147.3 359.4,1222.7 362.6,1143.4 365.8,1138.9 369.0,1101.2 372.2,1151.5 375.3,1101.2 378.5,1177.4 381.7,1201.7 384.9,1324.7 388.1,1279.0 391.3,1379.7 394.5,1264.5 397.7,1327.4 400.8,1314.8 404.0,1363.0 407.2,1201.7 410.4,1176.5 413.6,1079.0 416.8,1162.3 420.0,1159.8 423.2,1230.6 426.3,1243.6 429.5,1213.1 432.7,1138.9 435.9,1151.5 439.1,1080.2 442.3,1069.8 445.5,1081.3 448.7,1117.9 451.8,1081.3 455.0,1069.8 458.2,1201.7 461.4,1334.3 464.6,1335.7 467.8,1354.2 471.0,1341.6 474.2,1306.2 477.4,1159.8 480.5,1172.4 483.7,1097.0 486.9,1109.6 490.1,1039.2 493.3,1042.5 496.5,1097.0 499.7,1109.6 502.9,1076.1 506.0,1097.0 509.2,1084.4 512.4,1130.5 515.6,1117.9 518.8,1130.5 522.0,1097.0 525.2,1237.9 528.4,1190.2 531.5,1329.5 534.7,1117.9 537.9,1130.5 541.1,1084.4 544.3,1097.0 547.5,1050.9 550.7,1088.6 553.9,1076.1 557.1,1099.4 560.2,1101.2 563.4,1050.9 566.6,1046.7 569.8,1067.7 573.0,1071.6 576.2,1097.0 579.4,1147.3 582.6,1216.4 585.7,1265.8 588.9,1097.0 592.1,1048.8 595.3,1025.8 598.5,1025.8 601.7,1050.9 604.9,1047.1 608.1,1067.7 611.2,1059.7 614.4,1076.1 617.6,1097.1 620.8,1159.4 624.0,1177.8 627.2,1109.6 630.4,1024.1 633.6,1055.1 636.7,1048.8 639.9,1067.7 643.1,1048.4 646.3,1055.1 649.5,1068.5 652.7,1117.6 655.9,1136.8 659.1,1095.5 662.3,1038.4 665.4,1059.1 668.6,1059.3 671.8,1074.4 675.0,1043.5 678.2,1050.9 681.4,1045.8 684.6,1067.7 687.8,1076.1 690.9,1111.0 694.1,1122.1 697.3,1072.9 700.5,1010.7 703.7,1036.3 706.9,1013.2 710.1,1038.4 713.3,1021.5 716.4,1025.8 719.6,1023.0 722.8,1059.9 726.0,1055.1 729.2,1071.2 732.4,1034.0 735.6,1050.9 738.8,1044.1 742.0,1078.0 745.1,1063.5 748.3,1098.6 751.5,1097.0 754.7,1137.0 757.9,1150.2 761.1,1076.1 764.3,1048.3 767.5,1055.1 770.6,1037.4 773.8,1054.6 777.0,1038.4 780.2,1093.4 783.4,1130.5 786.6,1120.5 789.8,1076.1 793.0,1114.2 796.1,1136.8 799.3,1076.1 802.5,1065.3 805.7,1067.7 808.9,1068.2 812.1,1101.2 815.3,1068.6 818.5,1067.7 821.7,1047.7 824.8,1068.5 828.0,1043.8 831.2,1062.1 834.4,1067.7 837.6,1085.1 840.8,1084.4 844.0,1091.8 847.2,1080.2 850.3,1097.7 853.5,1092.8 856.7,1128.8 859.9,1148.9 863.1,1097.0 866.3,1103.7 869.5,1133.6 872.7,1136.8 875.8,1097.0 879.0,1090.0 882.2,1117.9 885.4,1084.7 888.6,1088.6 891.8,1075.9 895.0,1106.2 898.2,1097.0 901.3,1103.9 904.5,1092.8 907.7,1101.7 910.9,1074.0 914.1,1119.0 917.3,1138.9 920.5,1189.1 923.7,1117.9 926.9,1114.4 930.0,1080.2 933.2,1088.4 936.4,1084.4 939.6,1090.8 942.8,1080.2 946.0,1096.0 949.2,1065.7 952.4,1077.3 955.5,1109.6 958.7,1124.1 961.9,1091.4 965.1,1101.2 968.3,1108.8 971.5,1138.9 974.7,1146.2 977.9,1197.1 981.0,1200.9 984.2,1138.9 987.4,1139.6 990.6,1159.8 993.8,1138.9 997.0,1143.1 1000.2,1161.0 1003.4,1197.5 1006.6,1143.1 1009.7,1158.9 1012.9,1130.5 1016.1,1143.1 1019.3,1130.5 1022.5,1164.0 1025.7,1151.5 1028.9,1172.4 1032.1,1138.9 1035.2,1159.8 1038.4,1134.7 1041.6,1172.4 1044.8,1115.8 1048.0,1117.9 1051.2,1151.5 1054.4,1189.1 1057.6,1155.6 1060.7,1176.6 1063.9,1161.2 1067.1,1189.1 1070.3,1168.2 1073.5,1197.5 1076.7,1185.0 1079.9,1197.5 1083.1,1150.6 1086.2,1152.3 1089.4,1214.3 1092.6,1216.7 1095.8,1176.6 1099.0,1197.5 1102.2,1164.0 1105.4,1185.0 1108.6,1151.5 1111.8,1197.5 1114.9,1164.0 1118.1,1204.7 1121.3,1193.3 1124.5,1147.3 1127.7,1172.4 1130.9,1222.7 1134.1,1210.1 1137.3,1222.7 1140.4,1189.1 1143.6,1180.8 1146.8,1222.7 1150.0,1283.8 1153.2,1256.2 1156.4,1314.8 1159.6,1243.6 1162.8,1293.3 1165.9,1285.5 1169.1,1319.0 1172.3,1306.4 1175.5,1438.2 1178.7,1463.1 1181.9,1428.8 1185.1,1280.5 1188.3,1222.7 1191.5,1277.1 1194.6,1339.9 1197.8,1327.4 1201.0,1326.9 1204.2,1204.2 1207.4,1216.8 1210.6,1204.2 1213.8,1298.1 1217.0,1285.5 1220.1,1295.5 1223.3,1264.5 1226.5,1277.1 1229.7,1243.6 1232.9,1234.4 1236.1,1179.1 1239.3,1277.1 1242.5,1264.5 1245.6,1298.1 1248.8,1285.5 1252.0,1339.9 1255.2,1327.4 1258.4,1339.9 1261.6,1306.4 1264.8,1390.2 1268.0,1379.7 1271.2,1474.8 1274.3,1405.0 1277.5,1404.9 1280.7,1461.4 1283.9,1458.3 1287.1,1411.1 1290.3,1327.4 1293.5,1189.1 1296.7,1275.7 1299.8,1285.5 1303.0,1306.4 1306.2,1315.8 1309.4,1394.4" fill="none" stroke="#5B9BD5" stroke-width="8" stroke-linejoin="round" stroke-linecap="round"/>
<polyline points="149.0,1415.3 152.2,1327.4 155.4,1243.6 158.6,1284.5 161.7,1455.5 164.9,1327.4 168.1,1283.7 171.3,1186.6 174.5,1236.3 177.7,1243.6 180.9,1306.4 184.1,1256.2 187.2,1231.0 190.4,1196.7 193.6,1213.2 196.8,1165.7 200.0,1285.5 203.2,1423.7 206.4,1394.8 209.6,1264.5 212.8,1235.2 215.9,1255.4 219.1,1348.3 222.3,1348.5 225.5,1472.3 228.7,1369.3 231.9,1444.7 235.1,1177.8 238.3,1264.5 241.4,1180.8 244.6,1264.1 247.8,1285.5 251.0,1327.4 254.2,1316.7 257.4,1436.3 260.6,1336.3 263.8,1306.4 266.9,1293.9 270.1,1369.3 273.3,1356.7 276.5,1394.4 279.7,1381.8 282.9,1415.3 286.1,1157.7 289.3,1274.6 292.5,1264.5 295.6,1327.4 298.8,1314.8 302.0,1339.9 305.2,1327.4 308.4,1435.0 311.6,1422.5 314.8,1285.5 318.0,1207.6 321.1,1154.8 324.3,1329.5 327.5,1243.6 330.7,1138.9 333.9,1215.5 337.1,1222.7 340.3,1235.2 343.5,1201.7 346.6,1256.2 349.8,1243.6 353.0,1256.2 356.2,1180.8 359.4,1252.0 362.6,1239.4 365.8,1233.0 369.0,1113.8 372.2,1172.4 375.3,1159.8 378.5,1307.2 381.7,1361.3 384.9,1077.3 388.1,1076.1 391.3,1159.8 394.5,1121.3 397.7,1140.1 400.8,1081.9 404.0,1285.5 407.2,1168.2 410.4,1180.8 413.6,1198.4 416.8,1285.5 420.0,1314.6 423.2,1457.2 426.3,1201.7 429.5,1199.6 432.7,1067.7 435.9,1151.5 439.1,1138.9 442.3,1151.5 445.5,1117.9 448.7,1172.4 451.8,1159.8 455.0,1172.4 458.2,1084.4 461.4,1197.0 464.6,1252.0 467.8,1228.3 471.0,1159.8 474.2,1172.4 477.4,1117.9 480.5,1171.0 483.7,1180.8 486.9,1193.3 490.1,1097.0 493.3,1222.4 496.5,1215.7 499.7,1341.6 502.9,1200.9 506.0,1138.9 509.2,1196.9 512.4,1357.1 515.6,1149.3 518.8,1067.7 522.0,1117.9 525.2,1130.5 528.4,1092.8 531.5,1184.9 534.7,1201.7 537.9,1371.7 541.1,1446.7 544.3,1306.4 547.5,1381.8 550.7,1283.9 553.9,1117.9 557.1,1188.0 560.2,1231.0 563.4,1164.3 566.6,1071.9 569.8,1095.8 573.0,1097.0 576.2,1126.3 579.4,1088.6 582.6,1076.1 585.7,1071.8 588.9,1092.8 592.1,1136.3 595.3,1212.1 598.5,1243.6 601.7,1222.5 604.9,1180.8 608.1,1198.8 611.2,1136.5 614.4,1097.0 617.6,1071.4 620.8,1067.7 624.0,1061.4 627.2,1080.2 630.4,1053.7 633.6,1063.5 636.7,1057.4 639.9,1076.1 643.1,1044.9 646.3,1042.5 649.5,1015.3 652.7,1076.1 655.9,1080.6 659.1,1120.0 662.3,1055.1 665.4,1050.5 668.6,1030.0 671.8,1088.1 675.0,1110.2 678.2,1165.7 681.4,1021.6 684.6,1054.6 687.8,1067.7 690.9,1090.6 694.1,1084.6 697.3,1105.4 700.5,1072.7 703.7,1065.0 706.9,1025.8 710.1,1056.6 713.3,1055.1 716.4,1067.9 719.6,1044.0 722.8,1050.9 726.0,1052.9 729.2,1084.4 732.4,1094.8 735.6,1117.9 738.8,1059.3 742.0,1069.0 745.1,1043.9 748.3,1055.1 751.5,1052.7 754.7,1097.6 757.9,1101.2 761.1,1105.4 764.3,1076.1 767.5,1138.9 770.6,1095.2 773.8,1076.1 777.0,1053.0 780.2,1055.1 783.4,1030.0 786.6,1030.0 789.8,1040.5 793.0,1076.1 796.1,1080.8 799.3,1128.4 802.5,1136.8 805.7,1121.7 808.9,1076.1 812.1,1081.8 815.3,1059.3 818.5,1075.9 821.7,1055.9 824.8,1094.6 828.0,1084.4 831.2,1085.6 834.4,1059.3 837.6,1084.4 840.8,1067.4 844.0,1080.2 847.2,1073.2 850.3,1104.7 853.5,1085.8 856.7,1101.2 859.9,1082.8 863.1,1080.2 866.3,1064.9 869.5,1086.0 872.7,1071.9 875.8,1086.7 879.0,1076.8 882.2,1088.6 885.4,1077.5 888.6,1101.7 891.8,1092.8 895.0,1104.2 898.2,1101.2 901.3,1127.3 904.5,1127.4 907.7,1154.0 910.9,1108.4 914.1,1097.0 917.3,1109.9 920.5,1138.9 923.7,1189.1 926.9,1167.0 930.0,1126.3 933.2,1120.7 936.4,1101.2 939.6,1121.4 942.8,1117.9 946.0,1151.5 949.2,1158.0 952.4,1193.3 955.5,1142.4 958.7,1122.1 961.9,1108.5 965.1,1130.5 968.3,1115.2 971.5,1139.5 974.7,1134.7 977.9,1149.5 981.0,1126.3 984.2,1147.3 987.4,1142.6 990.6,1158.4 993.8,1151.5 997.0,1166.4 1000.2,1146.3 1003.4,1159.8 1006.6,1172.2 1009.7,1230.8 1012.9,1243.6 1016.1,1345.2 1019.3,1363.0 1022.5,1293.2 1025.7,1159.8 1028.9,1201.7 1032.1,1196.3 1035.2,1252.8 1038.4,1180.8 1041.6,1193.3 1044.8,1124.1 1048.0,1130.5 1051.2,1134.7 1054.4,1168.2 1057.6,1155.6 1060.7,1193.3 1063.9,1180.8 1067.1,1252.1 1070.3,1199.9 1073.5,1243.6 1076.7,1201.7 1079.9,1279.4 1083.1,1221.7 1086.2,1304.3 1089.4,1220.5 1092.6,1180.8 1095.8,1138.9 1099.0,1189.1 1102.2,1176.6 1105.4,1183.4 1108.6,1147.3 1111.8,1235.2 1114.9,1222.7 1118.1,1215.7 1121.3,1168.2 1124.5,1235.2 1127.7,1222.7 1130.9,1320.3 1134.1,1307.7 1137.3,1320.3 1140.4,1264.5 1143.6,1320.7 1146.8,1314.8 1150.0,1327.4 1153.2,1264.5 1156.4,1333.1 1159.6,1348.3 1162.8,1422.8 1165.9,1425.0 1169.1,1210.9 1172.3,1264.5 1175.5,1339.9 1178.7,1327.4 1181.9,1409.6 1185.1,1354.3 1188.3,1398.6 1191.5,1304.1 1194.6,1285.5 1197.8,1260.4 1201.0,1272.9 1204.2,1261.3 1207.4,1306.4 1210.6,1293.9 1213.8,1373.4 1217.0,1360.9 1220.1,1327.4 1223.3,1425.0 1226.5,1437.5 1229.7,1407.0 1232.9,1372.8 1236.1,1264.5 1239.3,1277.1 1242.5,1231.0 1245.6,1277.1 1248.8,1264.5 1252.0,1184.1 1255.2,1285.5 1258.4,1368.2 1261.6,1393.1 1264.8,1382.9 1268.0,1306.4 1271.2,1373.2 1274.3,1384.8 1277.5,1394.6 1280.7,1285.5 1283.9,1296.4 1287.1,1219.3 1290.3,1326.1 1293.5,1327.4 1296.7,1457.9 1299.8,1471.5 1303.0,1327.4 1306.2,1225.2 1309.4,1210.9" fill="none" stroke="#ED7D31" stroke-width="8" stroke-linejoin="round" stroke-linecap="round"/>
<polyline points="149.0,1369.3 152.2,1422.5 155.4,1229.4 158.6,1264.5 161.7,1339.9 164.9,1327.4 168.1,1339.9 171.3,1264.5 174.5,1182.0 177.7,1221.2 180.9,1285.5 184.1,1369.3 187.2,1407.0 190.4,1252.0 193.6,1407.0 196.8,1285.5 200.0,1327.4 203.2,1173.2 206.4,1324.0 209.6,1426.6 212.8,1285.5 215.9,1398.6 219.1,1243.6 222.3,1394.4 225.5,1366.9 228.7,1243.6 231.9,1252.8 235.1,1182.0 238.3,1252.0 241.4,1222.7 244.6,1235.2 247.8,1231.0 251.0,1252.0 254.2,1187.9 257.4,1182.0 260.6,1498.3 263.8,1443.3 266.9,1306.4 270.1,1236.9 273.3,1270.9 276.5,1365.9 279.7,1285.5 282.9,1294.3 286.1,1220.1 289.3,1355.8 292.5,1448.8 295.6,1380.8 298.8,1264.5 302.0,1306.4 305.2,1277.1 308.4,1289.7 311.6,1226.8 314.8,1272.9 318.0,1260.4 321.1,1272.9 324.3,1252.0 327.5,1358.3 330.7,1355.4 333.9,1346.9 337.1,1264.5 340.3,1237.9 343.5,1165.7 346.6,1316.6 349.8,1353.8 353.0,1222.7 356.2,1138.9 359.4,1151.5 362.6,1071.9 365.8,1130.5 369.0,1117.9 372.2,1219.5 375.3,1222.7 378.5,1293.9 381.7,1159.8 384.9,1172.4 388.1,1088.6 391.3,1182.3 394.5,1201.7 397.7,1138.9 400.8,1243.6 404.0,1256.2 407.2,1176.6 410.4,1312.4 413.6,1373.4 416.8,1105.4 420.0,1147.3 423.2,1243.6 426.3,1455.5 429.5,1390.2 432.7,1222.7 435.9,1198.9 439.1,1105.4 442.3,1188.1 445.5,1222.7 448.7,1354.2 451.8,1401.1 455.0,1344.7 458.2,1180.8 461.4,1193.3 464.6,1159.8 467.8,1050.9 471.0,1092.8 474.2,1159.8 477.4,1265.2 480.5,1471.0 483.7,1159.8 486.9,1134.4 490.1,1051.8 493.3,1109.6 496.5,1078.2 499.7,1071.9 502.9,1063.5 506.0,1117.9 509.2,1185.0 512.4,1197.5 515.6,1105.4 518.8,1161.9 522.0,1159.8 525.2,1225.1 528.4,1239.4 531.5,1285.5 534.7,1284.4 537.9,1332.8 541.1,1084.4 544.3,1179.7 547.5,1231.0 550.7,1197.0 553.9,1097.0 557.1,1070.8 560.2,1018.3 563.4,1063.6 566.6,1076.1 569.8,1090.3 573.0,1084.4 576.2,1107.5 579.4,1109.6 582.6,1092.5 585.7,1046.8 588.9,1030.0 592.1,1048.8 595.3,1097.0 598.5,1098.8 601.7,1126.3 604.9,1139.2 608.1,1170.3 611.2,1120.3 614.4,1084.4 617.6,1048.8 620.8,1038.4 624.0,1097.0 627.2,1132.9 630.4,1138.9 633.6,1132.4 636.7,1092.8 639.9,1226.8 643.1,1343.3 646.3,1207.9 649.5,1046.7 652.7,1083.4 655.9,1084.4 659.1,1102.1 662.3,1092.8 665.4,1130.5 668.6,1124.0 671.8,1151.5 675.0,1084.4 678.2,1092.5 681.4,1063.5 684.6,1083.8 687.8,1080.3 690.9,1105.4 694.1,1079.9 697.3,1082.6 700.5,1046.7 703.7,1054.5 706.9,1014.3 710.1,1025.8 713.3,1037.4 716.4,1099.8 719.6,1109.6 722.8,1105.6 726.0,1076.1 729.2,1073.0 732.4,1019.9 735.6,1010.7 738.8,1059.3 742.0,1075.8 745.1,1071.9 748.3,1071.5 751.5,1034.2 754.7,1060.2 757.9,1056.7 761.1,1080.2 764.3,1042.6 767.5,1018.3 770.6,1097.0 773.8,1154.9 777.0,1189.1 780.2,1151.3 783.4,1097.0 786.6,1094.0 789.8,1055.1 793.0,1088.6 796.1,1063.5 799.3,1072.0 802.5,1050.9 805.7,1064.2 808.9,1063.5 812.1,1062.6 815.3,1028.5 818.5,1022.9 821.7,1067.7 824.8,1080.5 828.0,1067.7 831.2,1092.4 834.4,1084.4 837.6,1110.8 840.8,1101.4 844.0,1121.2 847.2,1109.6 850.3,1095.7 853.5,1046.7 856.7,1072.9 859.9,1076.1 863.1,1090.4 866.3,1084.4 869.5,1116.5 872.7,1113.8 875.8,1123.9 879.0,1101.2 882.2,1120.7 885.4,1105.4 888.6,1103.4 891.8,1071.9 895.0,1093.4 898.2,1092.8 901.3,1110.1 904.5,1081.2 907.7,1114.4 910.9,1094.1 914.1,1105.4 917.3,1093.0 920.5,1110.9 923.7,1097.0 926.9,1108.6 930.0,1088.6 933.2,1110.0 936.4,1105.4 939.6,1143.4 942.8,1139.1 946.0,1180.8 949.2,1117.9 952.4,1110.4 955.5,1088.6 958.7,1148.7 961.9,1180.8 965.1,1169.9 968.3,1138.9 971.5,1138.7 974.7,1099.8 977.9,1099.1 981.0,1138.9 984.2,1135.3 987.4,1113.8 990.6,1165.5 993.8,1180.8 997.0,1143.5 1000.2,1092.8 1003.4,1138.9 1006.6,1153.5 1009.7,1194.2 1012.9,1130.5 1016.1,1130.5 1019.3,1119.3 1022.5,1147.3 1025.7,1134.7 1028.9,1147.3 1032.1,1128.8 1035.2,1159.8 1038.4,1147.3 1041.6,1233.5 1044.8,1191.8 1048.0,1244.4 1051.2,1147.3 1054.4,1210.2 1057.6,1155.6 1060.7,1249.4 1063.9,1247.8 1067.1,1260.4 1070.3,1176.6 1073.5,1214.3 1076.7,1201.7 1079.9,1327.4 1083.1,1339.8 1086.2,1456.4 1089.4,1310.6 1092.6,1387.6 1095.8,1408.2 1099.0,1354.1 1102.2,1217.6 1105.4,1256.2 1108.6,1243.6 1111.8,1307.7 1114.9,1262.4 1118.1,1317.9 1121.3,1243.6 1124.5,1190.8 1127.7,1178.3 1130.9,1277.1 1134.1,1264.5 1137.3,1326.1 1140.4,1226.9 1143.6,1218.5 1146.8,1220.5 1150.0,1314.8 1153.2,1253.3 1156.4,1315.4 1159.6,1264.5 1162.8,1337.0 1165.9,1324.4 1169.1,1318.6 1172.3,1264.5 1175.5,1277.1 1178.7,1197.5 1181.9,1374.7 1185.1,1222.7 1188.3,1285.5 1191.5,1243.6 1194.6,1272.9 1197.8,1253.4 1201.0,1285.5 1204.2,1252.0 1207.4,1293.9 1210.6,1281.3 1213.8,1293.9 1217.0,1243.6 1220.1,1250.6 1223.3,1187.5 1226.5,1381.8 1229.7,1255.3 1232.9,1201.7 1236.1,1219.8 1239.3,1306.4 1242.5,1328.8 1245.6,1481.5 1248.8,1327.4 1252.0,1243.6 1255.2,1278.1 1258.4,1384.8 1261.6,1285.5 1264.8,1279.8 1268.0,1197.5 1271.2,1256.2 1274.3,1243.6 1277.5,1281.3 1280.7,1266.6 1283.9,1277.1 1287.1,1268.1 1290.3,1344.1 1293.5,1293.9 1296.7,1306.4 1299.8,1331.6 1303.0,1264.5 1306.2,1225.2 1309.4,1210.9" fill="none" stroke="#A5A5A5" stroke-width="8" stroke-linejoin="round" stroke-linecap="round"/>
<text transform="translate(159.99,1558) rotate(-90)" text-anchor="end" font-family="Liberation Sans, sans-serif" font-size="31" fill="#666666" textLength="16.4" lengthAdjust="spacingAndGlyphs">1</text>
<text transform="translate(204.63,1558) rotate(-90)" text-anchor="end" font-family="Liberation Sans, sans-serif" font-size="31" fill="#666666" textLength="32.8" lengthAdjust="spacingAndGlyphs">15</text>
<text transform="translate(249.26,1558) rotate(-90)" text-anchor="end" font-family="Liberation Sans, sans-serif" font-size="31" fill="#666666" textLength="32.8" lengthAdjust="spacingAndGlyphs">29</text>
<text transform="translate(293.89,1558) rotate(-90)" text-anchor="end" font-family="Liberation Sans, sans-serif" font-size="31" fill="#666666" textLength="32.8" lengthAdjust="spacingAndGlyphs">43</text>
<text transform="translate(338.52,1558) rotate(-90)" text-anchor="end" font-family="Liberation Sans, sans-serif" font-size="31" fill="#666666" textLength="32.8" lengthAdjust="spacingAndGlyphs">57</text>
<text transform="translate(383.15,1558) rotate(-90)" text-anchor="end" font-family="Liberation Sans, sans-serif" font-size="31" fill="#666666" textLength="32.8" lengthAdjust="spacingAndGlyphs">71</text>
<text transform="translate(427.78,1558) rotate(-90)" text-anchor="end" font-family="Liberation Sans, sans-serif" font-size="31" fill="#666666" textLength="32.8" lengthAdjust="spacingAndGlyphs">85</text>
<text transform="translate(472.41,1558) rotate(-90)" text-anchor="end" font-family="Liberation Sans, sans-serif" font-size="31" fill="#666666" textLength="32.8" lengthAdjust="spacingAndGlyphs">99</text>
<text transform="translate(517.04,1558) rotate(-90)" text-anchor="end" font-family="Liberation Sans, sans-serif" font-size="31" fill="#666666" textLength="49.2" lengthAdjust="spacingAndGlyphs">113</text>
<text transform="translate(561.68,1558) rotate(-90)" text-anchor="end" font-family="Liberation Sans, sans-serif" font-size="31" fill="#666666" textLength="49.2" lengthAdjust="spacingAndGlyphs">127</text>
<text transform="translate(606.31,1558) rotate(-90)" text-anchor="end" font-family="Liberation Sans, sans-serif" font-size="31" fill="#666666" textLength="49.2" lengthAdjust="spacingAndGlyphs">141</text>
<text transform="translate(650.94,1558) rotate(-90)" text-anchor="end" font-family="Liberation Sans, sans-serif" font-size="31" fill="#666666" textLength="49.2" lengthAdjust="spacingAndGlyphs">155</text>
<text transform="translate(695.57,1558) rotate(-90)" text-anchor="end" font-family="Liberation Sans, sans-serif" font-size="31" fill="#666666" textLength="49.2" lengthAdjust="spacingAndGlyphs">169</text>
<text transform="translate(740.20,1558) rotate(-90)" text-anchor="end" font-family="Liberation Sans, sans-serif" font-size="31" fill="#666666" textLength="49.2" lengthAdjust="spacingAndGlyphs">183</text>
<text transform="translate(784.83,1558) rotate(-90)" text-anchor="end" font-family="Liberation Sans, sans-serif" font-size="31" fill="#666666" textLength="49.2" lengthAdjust="spacingAndGlyphs">197</text>
<text transform="translate(829.46,1558) rotate(-90)" text-anchor="end" font-family="Liberation Sans, sans-serif" font-size="31" fill="#666666" textLength="49.2" lengthAdjust="spacingAndGlyphs">211</text>
<text transform="translate(874.09,1558) rotate(-90)" text-anchor="end" font-family="Liberation Sans, sans-serif" font-size="31" fill="#666666" textLength="49.2" lengthAdjust="spacingAndGlyphs">225</text>
<text transform="translate(918.72,1558) rotate(-90)" text-anchor="end" font-family="Liberation Sans, sans-serif" font-size="31" fill="#666666" textLength="49.2" lengthAdjust="spacingAndGlyphs">239</text>
<text transform="translate(963.36,1558) rotate(-90)" text-anchor="end" font-family="Liberation Sans, sans-serif" font-size="31" fill="#666666" textLength="49.2" lengthAdjust="spacingAndGlyphs">253</text>
<text transform="translate(1007.99,1558) rotate(-90)" text-anchor="end" font-family="Liberation Sans, sans-serif" font-size="31" fill="#666666" textLength="49.2" lengthAdjust="spacingAndGlyphs">267</text>
<text transform="translate(1052.62,1558) rotate(-90)" text-anchor="end" font-family="Liberation Sans, sans-serif" font-size="31" fill="#666666" textLength="49.2" lengthAdjust="spacingAndGlyphs">281</text>
<text transform="translate(1097.25,1558) rotate(-90)" text-anchor="end" font-family="Liberation Sans, sans-serif" font-size="31" fill="#666666" textLength="49.2" lengthAdjust="spacingAndGlyphs">295</text>
<text transform="translate(1141.88,1558) rotate(-90)" text-anchor="end" font-family="Liberation Sans, sans-serif" font-size="31" fill="#666666" textLength="49.2" lengthAdjust="spacingAndGlyphs">309</text>
<text transform="translate(1186.51,1558) rotate(-90)" text-anchor="end" font-family="Liberation Sans, sans-serif" font-size="31" fill="#666666" textLength="49.2" lengthAdjust="spacingAndGlyphs">323</text>
<text transform="translate(1231.14,1558) rotate(-90)" text-anchor="end" font-family="Liberation Sans, sans-serif" font-size="31" fill="#666666" textLength="49.2" lengthAdjust="spacingAndGlyphs">337</text>
<text transform="translate(1275.77,1558) rotate(-90)" text-anchor="end" font-family="Liberation Sans, sans-serif" font-size="31" fill="#666666" textLength="49.2" lengthAdjust="spacingAndGlyphs">351</text>
<text transform="translate(1320.41,1558) rotate(-90)" text-anchor="end" font-family="Liberation Sans, sans-serif" font-size="31" fill="#666666" textLength="49.2" lengthAdjust="spacingAndGlyphs">365</text>
<text x="729" y="1644.6" text-anchor="middle" font-family="Liberation Sans, sans-serif" font-size="29" fill="#666666" textLength="71.5" lengthAdjust="spacingAndGlyphs">Days</text>
<text transform="translate(61.4,1244) rotate(-90)" text-anchor="middle" font-family="Liberation Sans, sans-serif" font-size="33" fill="#666666" textLength="468" lengthAdjust="spacingAndGlyphs">Measured Daily Energy(kWh/m<tspan font-size="20.5" dy="-10.9">2</tspan><tspan dy="10.9">)</tspan></text>
<line x1="816" y1="973.3" x2="887.4" y2="973.3" stroke="#5B9BD5" stroke-width="8" stroke-linecap="round"/>
<text x="896.1" y="983.3" font-family="Liberation Sans, sans-serif" font-size="31.5" fill="#666666" textLength="67.5" lengthAdjust="spacingAndGlyphs">2017</text>
<line x1="996.3" y1="973.3" x2="1069.6" y2="973.3" stroke="#ED7D31" stroke-width="8" stroke-linecap="round"/>
<text x="1076.7" y="983.3" font-family="Liberation Sans, sans-serif" font-size="31.5" fill="#666666" textLength="70.9" lengthAdjust="spacingAndGlyphs">2018</text>
<line x1="1179.4" y1="973.3" x2="1252" y2="973.3" stroke="#A5A5A5" stroke-width="8" stroke-linecap="round"/>
<text x="1258.7" y="983.3" font-family="Liberation Sans, sans-serif" font-size="31.5" fill="#666666" textLength="70.7" lengthAdjust="spacingAndGlyphs">2019</text>
<text x="679.1" y="1738.6" text-anchor="middle" font-family="Liberation Serif, serif" font-size="47" fill="#000">(b)</text>
<rect x="5.6" y="1784.6" width="1345.4" height="781.8000000000002" fill="#fff" stroke="#D9D9D9" stroke-width="3"/>
<line x1="174.8" y1="2399.50" x2="1309.6" y2="2399.50" stroke="#D9D9D9" stroke-width="3"/>
<text x="144" y="2410.50" text-anchor="end" font-family="Liberation Sans, sans-serif" font-size="31" fill="#666666" textLength="17.6" lengthAdjust="spacingAndGlyphs">0</text>
<line x1="174.8" y1="2303.62" x2="1309.6" y2="2303.62" stroke="#D9D9D9" stroke-width="3"/>
<text x="144" y="2314.62" text-anchor="end" font-family="Liberation Sans, sans-serif" font-size="31" fill="#666666" textLength="17.6" lengthAdjust="spacingAndGlyphs">2</text>
<line x1="174.8" y1="2207.73" x2="1309.6" y2="2207.73" stroke="#D9D9D9" stroke-width="3"/>
<text x="144" y="2218.73" text-anchor="end" font-family="Liberation Sans, sans-serif" font-size="31" fill="#666666" textLength="17.6" lengthAdjust="spacingAndGlyphs">4</text>
<line x1="174.8" y1="2111.85" x2="1309.6" y2="2111.85" stroke="#D9D9D9" stroke-width="3"/>
<text x="144" y="2122.85" text-anchor="end" font-family="Liberation Sans, sans-serif" font-size="31" fill="#666666" textLength="17.6" lengthAdjust="spacingAndGlyphs">6</text>
<line x1="174.8" y1="2015.97" x2="1309.6" y2="2015.97" stroke="#D9D9D9" stroke-width="3"/>
<text x="144" y="2026.97" text-anchor="end" font-family="Liberation Sans, sans-serif" font-size="31" fill="#666666" textLength="17.6" lengthAdjust="spacingAndGlyphs">8</text>
<line x1="174.8" y1="1920.08" x2="1309.6" y2="1920.08" stroke="#D9D9D9" stroke-width="3"/>
<text x="144" y="1931.08" text-anchor="end" font-family="Liberation Sans, sans-serif" font-size="31" fill="#666666" textLength="35.2" lengthAdjust="spacingAndGlyphs">10</text>
<line x1="174.8" y1="1824.20" x2="1309.6" y2="1824.20" stroke="#D9D9D9" stroke-width="3"/>
<text x="144" y="1835.20" text-anchor="end" font-family="Liberation Sans, sans-serif" font-size="31" fill="#666666" textLength="35.2" lengthAdjust="spacingAndGlyphs">12</text>
<polyline points="176.4,2050.5 179.5,2111.8 182.6,2054.3 185.7,2131.0 188.8,2087.9 191.9,2150.2 195.0,2229.0 198.1,2260.5 201.2,2159.8 204.3,2226.9 207.4,2234.4 210.6,2183.8 213.7,2126.2 216.8,2394.7 219.9,2207.7 223.0,2103.7 226.1,2087.9 229.2,2073.5 232.3,2159.8 235.4,2097.5 238.5,2063.9 241.6,2051.9 244.8,2068.7 247.9,2159.8 251.0,2219.2 254.1,2207.7 257.2,2326.6 260.3,2318.0 263.4,2305.8 266.5,2231.7 269.6,2330.5 272.7,2161.2 275.8,2020.8 279.0,2030.3 282.1,2068.7 285.2,2038.5 288.3,2037.1 291.4,2060.1 294.5,2111.8 297.6,2086.7 300.7,2090.3 303.8,2231.7 306.9,2330.1 310.0,2261.6 313.2,2391.3 316.3,2342.0 319.4,2373.1 322.5,2166.3 325.6,1988.2 328.7,2039.9 331.8,2147.9 334.9,2207.7 338.0,2345.9 341.1,2337.2 344.2,2305.1 347.4,2183.8 350.5,2169.5 353.6,2087.9 356.7,2176.6 359.8,2183.8 362.9,2163.7 366.0,2044.1 369.1,1995.8 372.2,2027.5 375.3,2087.9 378.4,2077.2 381.6,2135.8 384.7,2121.4 387.8,2208.7 390.9,2083.9 394.0,2063.9 397.1,2001.6 400.2,2154.9 403.3,2159.8 406.4,2329.2 409.5,2362.6 412.6,2339.2 415.8,2231.7 418.9,2274.9 422.0,2260.5 425.1,2290.7 428.2,2111.8 431.3,2126.2 434.4,2021.1 437.5,1997.3 440.6,2063.9 443.7,2136.5 446.8,2159.8 450.0,2174.2 453.1,2025.6 456.2,2039.9 459.3,2000.4 462.4,1989.6 465.5,2000.4 468.6,2039.9 471.7,2004.2 474.8,1997.3 477.9,2159.8 481.0,2292.2 484.1,2300.3 487.3,2339.6 490.4,2222.3 493.5,2229.2 496.6,2087.9 499.7,2077.1 502.8,1996.8 505.9,2008.6 509.0,1955.6 512.1,1956.5 515.2,1971.9 518.3,2016.0 521.5,1992.0 524.6,1996.8 527.7,1992.0 530.8,2016.0 533.9,2001.6 537.0,2063.9 540.1,2037.5 543.2,2039.9 546.3,2114.3 549.4,2339.6 552.5,2063.9 555.7,2078.3 558.8,2016.0 561.9,2030.3 565.0,1982.4 568.1,1987.2 571.2,2016.0 574.3,2039.5 577.4,2044.7 580.5,2036.7 583.6,1996.8 586.7,2082.5 589.9,2138.7 593.0,2106.0 596.1,2039.9 599.2,2177.3 602.3,2298.8 605.4,2178.8 608.5,2039.9 611.6,1947.4 614.7,1948.1 617.8,1977.6 620.9,1962.4 624.1,1993.0 627.2,1975.2 630.3,2003.5 633.4,2016.0 636.5,2098.9 639.6,2156.9 642.7,2072.4 645.8,1947.4 648.9,1988.4 652.0,1996.8 655.1,2027.8 658.3,2016.0 661.4,2013.4 664.5,1992.0 667.6,2080.4 670.7,2142.1 673.8,2070.0 676.9,1960.8 680.0,1994.4 683.1,2001.6 686.2,2016.8 689.3,1980.8 692.5,1992.0 695.6,1991.7 698.7,2015.9 701.8,2016.0 704.9,2049.3 708.0,2039.9 711.1,2008.7 714.2,1951.6 717.3,1921.5 720.4,1933.2 723.5,1968.0 726.7,1948.8 729.8,1977.8 732.9,1953.6 736.0,1980.1 739.1,1965.2 742.2,1992.0 745.3,1972.0 748.4,1999.5 751.5,1987.2 754.6,2008.9 757.7,1990.7 760.9,2016.0 764.0,2087.9 767.1,2143.0 770.2,2166.0 773.3,2110.0 776.4,2039.9 779.5,2024.1 782.6,1992.0 785.7,1983.8 788.8,1958.4 791.9,2016.6 795.1,2039.9 798.2,2077.6 801.3,2060.3 804.4,2102.3 807.5,2050.6 810.6,2035.1 813.7,2022.4 816.8,2030.3 819.9,2074.9 823.0,2058.7 826.1,2006.4 829.3,2015.3 832.4,1969.7 835.5,1975.6 838.6,1956.5 841.7,1991.2 844.8,2001.6 847.9,2024.3 851.0,2025.6 854.1,2044.3 857.2,2044.7 860.3,2061.5 863.5,2063.9 866.6,2101.3 869.7,2121.9 872.8,2107.7 875.9,2054.3 879.0,2078.3 882.1,2087.9 885.2,2091.6 888.3,2063.9 891.4,2075.9 894.5,2068.7 897.7,2063.7 900.8,2039.9 903.9,2074.8 907.0,2060.9 910.1,2087.9 913.2,2045.9 916.3,2035.7 919.4,1989.6 922.5,2063.9 925.6,2146.4 928.7,2122.1 931.9,2063.9 935.0,2044.7 938.1,1996.8 941.2,2018.6 944.3,2001.6 947.4,2011.7 950.5,1996.8 953.6,2008.0 956.7,1976.0 959.8,1987.2 962.9,2039.9 966.1,2048.6 969.2,2016.0 972.3,2025.6 975.4,2032.8 978.5,2075.6 981.6,2087.9 984.7,2130.5 987.8,2156.4 990.9,2140.5 994.0,2087.9 997.1,2117.6 1000.3,2111.8 1003.4,2150.5 1006.5,2147.8 1009.6,2132.3 1012.7,2083.1 1015.8,2096.7 1018.9,2063.9 1022.0,2078.3 1025.1,2063.9 1028.2,2102.3 1031.3,2087.9 1034.4,2111.8 1037.6,2073.5 1040.7,2097.5 1043.8,2062.7 1046.9,2096.2 1050.0,2022.0 1053.1,2016.0 1056.2,2087.9 1059.3,2153.1 1062.4,2081.5 1065.5,2148.9 1068.6,2068.7 1071.8,2107.1 1074.9,2092.7 1078.0,2126.2 1081.1,2111.8 1084.2,2126.2 1087.3,2055.0 1090.4,2048.1 1093.5,2135.8 1096.6,2136.6 1099.7,2087.9 1102.8,2111.8 1106.0,2073.5 1109.1,2097.5 1112.2,2046.8 1115.3,2103.8 1118.4,2056.2 1121.5,2116.6 1124.6,2102.3 1127.7,2111.7 1130.8,2036.1 1133.9,2130.5 1137.0,2135.8 1140.2,2150.2 1143.3,2097.5 1146.4,2073.5 1149.5,2135.8 1152.6,2219.4 1155.7,2183.8 1158.8,2255.7 1161.9,2159.8 1165.0,2218.3 1168.1,2207.7 1171.2,2222.1 1174.4,2198.1 1177.5,2201.8 1180.6,2084.5 1183.7,2375.5 1186.8,2200.9 1189.9,2111.8 1193.0,2183.8 1196.1,2252.8 1199.2,2238.4 1202.3,2191.4 1205.4,2091.2 1208.6,2105.6 1211.7,2091.2 1214.8,2194.1 1217.9,2183.8 1221.0,2198.1 1224.1,2169.4 1227.2,2310.8 1230.3,2352.5 1233.4,2280.0 1236.5,2061.0 1239.6,2148.3 1242.8,2159.8 1245.9,2216.5 1249.0,2207.7 1252.1,2256.5 1255.2,2255.7 1258.3,2270.1 1261.4,2217.3 1264.5,2303.6 1267.6,2310.2 1270.7,2394.7 1273.8,2318.0 1277.0,2332.4 1280.1,2389.9 1283.2,2379.7 1286.3,2322.8 1289.4,2218.8 1292.5,2068.7 1295.6,2181.6 1298.7,2207.7 1301.8,2231.7 1304.9,2217.3 1308.0,2322.8" fill="none" stroke="#5B9BD5" stroke-width="8" stroke-linejoin="round" stroke-linecap="round"/>
<polyline points="176.4,2342.4 179.5,2231.7 182.6,2126.2 185.7,2377.4 188.8,2331.7 191.9,2231.7 195.0,2184.7 198.1,2068.7 201.2,2153.5 204.3,2159.8 207.4,2231.7 210.6,2169.4 213.7,2135.8 216.8,2089.0 219.9,2132.6 223.0,2038.5 226.1,2183.8 229.2,2351.6 232.3,2296.1 235.4,2183.8 238.5,2092.7 241.6,2123.8 244.8,2255.7 247.9,2252.1 251.0,2385.1 254.1,2279.6 257.2,2373.1 260.3,2067.3 263.4,2183.8 266.5,2068.7 269.6,2177.3 272.7,2183.8 275.8,2231.7 279.0,2234.7 282.1,2385.1 285.2,2265.3 288.3,2279.6 291.4,2327.6 294.5,2342.0 297.6,2312.2 300.7,2353.5 303.8,2297.9 306.9,2366.9 310.0,2181.3 313.2,2055.3 316.3,2183.8 319.4,2260.0 322.5,2289.2 325.6,2308.4 328.7,2294.0 331.8,2372.2 334.9,2357.8 338.0,2207.7 341.1,2051.9 344.2,2246.2 347.4,2304.6 350.5,2159.8 353.6,2073.5 356.7,2046.2 359.8,2159.8 362.9,2169.7 366.0,2111.8 369.1,2163.2 372.2,2159.8 375.3,2216.5 378.4,2145.4 381.6,2241.3 384.7,2135.6 387.8,2087.9 390.9,2025.1 394.0,2025.6 397.1,2087.9 400.2,2243.1 403.3,2350.1 406.4,1968.0 409.5,2002.3 412.6,2087.9 415.8,2026.8 418.9,1994.4 422.0,2121.4 425.1,2282.0 428.2,2165.2 431.3,2111.8 434.4,2231.7 437.5,2346.6 440.6,2382.2 443.7,2319.9 446.8,2111.8 450.0,2076.7 453.1,1977.6 456.2,2078.3 459.3,2063.9 462.4,2078.3 465.5,2039.9 468.6,2126.2 471.7,2111.8 474.8,2116.9 477.9,2014.0 481.0,2175.3 484.1,2207.7 487.3,2310.2 490.4,2303.6 493.5,2231.1 496.6,2087.9 499.7,2150.2 502.8,2135.8 505.9,2124.0 509.0,2039.9 512.1,2184.3 515.2,2163.7 518.3,2339.6 521.5,2167.8 524.6,2087.9 527.7,2187.0 530.8,2339.6 533.9,2004.9 537.0,2078.3 540.1,2063.9 543.2,2078.3 546.3,2035.1 549.4,2144.4 552.5,2159.8 555.7,2338.0 558.8,2394.7 561.9,2279.6 565.0,2364.0 568.1,2241.9 571.2,2063.9 574.3,2181.6 577.4,2284.4 580.5,2039.9 583.6,2126.2 586.7,2099.6 589.9,2039.9 593.0,2017.4 596.1,1980.5 599.2,2014.1 602.3,2025.6 605.4,2045.0 608.5,2039.9 611.6,2172.5 614.7,2286.4 617.8,2242.1 620.9,2183.8 624.1,2242.3 627.2,2134.5 630.3,2039.9 633.4,2006.3 636.5,2031.2 639.6,2001.6 642.7,2034.4 645.8,2025.6 648.9,2044.7 652.0,2016.5 655.1,2016.0 658.3,1960.4 661.4,1933.5 664.5,1960.4 667.6,2016.0 670.7,2054.1 673.8,2123.8 676.9,2043.5 680.0,1992.0 683.1,1955.5 686.2,1947.4 689.3,2057.6 692.5,2187.6 695.6,2048.4 698.7,1933.5 701.8,2016.0 704.9,2079.6 708.0,2108.5 711.1,2059.7 714.2,1992.0 717.3,1985.9 720.4,1941.2 723.5,2009.5 726.7,2049.5 729.8,2014.8 732.9,1948.8 736.0,2001.3 739.1,2016.0 742.2,2057.1 745.3,2065.8 748.4,2035.1 751.5,1987.2 754.6,1997.4 757.7,1980.7 760.9,1987.2 764.0,1998.4 767.1,2044.2 770.2,2041.4 773.3,2048.9 776.4,2025.6 779.5,2092.7 782.6,2033.2 785.7,2016.0 788.8,1978.5 791.9,1977.6 795.1,1947.2 798.2,1939.3 801.3,1963.2 804.4,2016.0 807.5,2031.5 810.6,2101.2 813.7,2123.8 816.8,2082.4 819.9,2025.6 823.0,2020.1 826.1,1992.0 829.3,2010.6 832.4,1999.2 835.5,2020.8 838.6,2002.3 841.7,2016.4 844.8,1974.0 847.9,1977.6 851.0,1982.3 854.1,2024.6 857.2,2020.8 860.3,2047.2 863.5,2029.4 866.6,2054.3 869.7,2015.0 872.8,2016.0 875.9,1992.6 879.0,2012.5 882.1,1982.4 885.2,2002.2 888.3,1993.6 891.4,2020.8 894.5,2016.3 897.7,2036.9 900.8,2035.1 903.9,2062.1 907.0,2049.5 910.1,2093.3 913.2,2102.3 916.3,2096.6 919.4,2039.5 922.5,2035.1 925.6,2056.5 928.7,2102.3 931.9,2168.4 935.0,2129.2 938.1,2073.5 941.2,2056.0 944.3,2016.0 947.4,2048.8 950.5,2039.9 953.6,2095.1 956.7,2097.7 959.8,2141.6 962.9,2082.4 966.1,2049.5 969.2,2043.4 972.3,2063.9 975.4,2043.8 978.5,2070.5 981.6,2063.9 984.7,2089.3 987.8,2066.4 990.9,2083.1 994.0,2069.9 997.1,2094.7 1000.3,2087.9 1003.4,2098.8 1006.5,2074.5 1009.6,2097.5 1012.7,2120.2 1015.8,2192.1 1018.9,2207.7 1022.0,2347.9 1025.1,2349.2 1028.2,2281.9 1031.3,2087.9 1034.4,2135.8 1037.6,2144.3 1040.7,2206.8 1043.8,2104.7 1046.9,2111.8 1050.0,2022.0 1053.1,2029.4 1056.2,2044.3 1059.3,2087.9 1062.4,2081.5 1065.5,2126.2 1068.6,2111.8 1071.8,2206.3 1074.9,2191.9 1078.0,2073.5 1081.1,2090.3 1084.2,2135.8 1087.3,2131.5 1090.4,2239.9 1093.5,2231.7 1096.6,2087.9 1099.7,2044.3 1102.8,2029.4 1106.0,2073.5 1109.1,2087.9 1112.2,2044.7 1115.3,2123.2 1118.4,2135.8 1121.5,2150.2 1124.6,2068.7 1127.7,2150.2 1130.8,2135.8 1133.9,2236.4 1137.0,2251.8 1140.2,2242.0 1143.3,2183.8 1146.4,2270.1 1149.5,2255.7 1152.6,2270.1 1155.7,2198.1 1158.8,2271.5 1161.9,2279.6 1165.0,2347.1 1168.1,2359.2 1171.2,2111.8 1174.4,2183.8 1177.5,2270.1 1180.6,2255.7 1183.7,2308.4 1186.8,2294.0 1189.9,2313.2 1193.0,2193.4 1196.1,2207.7 1199.2,2177.4 1202.3,2183.8 1205.4,2169.4 1208.6,2226.9 1211.7,2212.5 1214.8,2283.0 1217.9,2268.6 1221.0,2246.1 1224.1,2266.8 1227.2,2347.2 1230.3,2327.6 1233.4,2293.4 1236.5,2183.8 1239.6,2189.1 1242.8,2126.2 1245.9,2174.2 1249.0,2159.8 1252.1,2140.1 1255.2,2064.9 1258.3,2183.8 1261.4,2294.0 1264.5,2299.7 1267.6,2217.3 1270.7,2292.9 1273.8,2298.8 1277.0,2309.8 1280.1,2183.8 1283.2,2185.7 1286.3,2107.1 1289.4,2244.1 1292.5,2231.7 1295.6,2373.5 1298.7,2382.2 1301.8,2231.7 1304.9,2127.4 1308.0,2097.9" fill="none" stroke="#ED7D31" stroke-width="8" stroke-linejoin="round" stroke-linecap="round"/>
<polyline points="176.4,2224.0 179.5,2347.2 182.6,2121.9 185.7,2159.8 188.8,2263.0 191.9,2259.0 195.0,2266.4 198.1,2159.8 201.2,2174.2 204.3,2063.9 207.4,2173.7 210.6,2207.7 213.7,2322.8 216.8,2330.5 219.9,2169.4 223.0,2330.5 226.1,2231.7 229.2,2051.9 232.3,2253.8 235.4,2339.6 238.5,2179.0 241.6,2329.0 244.8,2169.4 247.9,2308.4 251.0,2293.0 254.1,2135.8 257.2,2150.2 260.3,2073.5 263.4,2207.7 266.5,2143.5 269.6,2145.4 272.7,2161.2 275.8,2207.7 279.0,2086.9 282.1,2078.3 285.2,2182.4 288.3,2386.6 291.4,2255.7 294.5,2199.6 297.6,2185.2 300.7,2289.2 303.8,2231.7 306.9,2246.1 310.0,2166.0 313.2,2327.3 316.3,2394.7 319.4,2196.7 322.5,2236.5 325.6,2282.5 328.7,2268.1 331.8,2261.5 334.9,2140.6 338.0,2202.9 341.1,2188.6 344.2,2202.9 347.4,2169.4 350.5,2246.1 353.6,2231.7 356.7,2302.4 359.8,2321.4 362.9,2261.5 366.0,2090.3 369.1,2268.1 372.2,2139.5 375.3,2135.8 378.4,2061.5 381.6,2016.0 384.7,1977.6 387.8,1968.0 390.9,2016.0 394.0,2160.7 397.1,2159.8 400.2,2295.5 403.3,2087.9 406.4,2094.7 409.5,1995.8 412.6,2113.4 415.8,2111.8 418.9,2172.3 422.0,2135.8 425.1,2150.2 428.2,2111.8 431.3,2240.9 434.4,2318.0 437.5,2054.3 440.6,2049.5 443.7,2183.8 446.8,2247.8 450.0,2388.5 453.1,2159.8 456.2,2142.7 459.3,2056.7 462.4,2203.4 465.5,2207.7 468.6,2354.9 471.7,2375.5 474.8,2135.8 477.9,2070.2 481.0,2063.9 484.1,1994.9 487.3,1954.6 490.4,2018.8 493.5,2111.8 496.6,2218.0 499.7,2399.5 502.8,2111.8 505.9,2064.3 509.0,1969.9 512.1,2039.9 515.2,2025.6 518.3,2011.2 521.5,2010.2 524.6,2087.9 527.7,2114.9 530.8,2230.3 533.9,2084.0 537.0,2142.9 540.1,2135.8 543.2,2200.7 546.3,2207.7 549.4,2276.4 552.5,2295.5 555.7,2230.4 558.8,2025.6 561.9,2111.8 565.0,2257.6 568.1,2211.9 571.2,2039.9 574.3,2001.6 577.4,1933.5 580.5,1983.1 583.6,2016.0 586.7,2029.5 589.9,2025.6 593.0,2069.8 596.1,2097.5 599.2,2068.0 602.3,2016.0 605.4,1962.3 608.5,2005.7 611.6,2063.9 614.7,2077.2 617.8,2111.8 620.9,2131.1 624.1,2169.4 627.2,2095.3 630.3,2039.9 633.4,1990.6 636.5,1969.9 639.6,2045.5 642.7,2147.8 645.8,2054.3 648.9,2077.5 652.0,2073.5 655.1,2223.2 658.3,2349.2 661.4,2180.4 664.5,1982.4 667.6,2022.3 670.7,2025.6 673.8,2041.5 676.9,2035.1 680.0,2080.2 683.1,2096.5 686.2,2147.8 689.3,2039.9 692.5,2035.4 695.6,2006.4 698.7,2068.0 701.8,2093.2 704.9,2064.4 708.0,2004.9 711.1,1982.4 714.2,1963.4 717.3,1972.5 720.4,1945.5 723.5,1986.9 726.7,1990.8 729.8,2030.3 732.9,2023.7 736.0,2074.0 739.1,2070.1 742.2,2027.9 745.3,1953.9 748.4,1916.7 751.5,1968.0 754.6,1976.6 757.7,1953.6 760.9,1963.0 764.0,1958.4 767.1,1998.6 770.2,2023.2 773.3,2006.0 776.4,1943.3 779.5,1924.9 782.6,2063.9 785.7,2161.3 788.8,2231.7 791.9,2122.3 795.1,1987.2 798.2,2008.5 801.3,2001.6 804.4,2016.0 807.5,1992.8 810.6,2010.1 813.7,1977.6 816.8,1993.8 819.9,1968.0 823.0,1968.2 826.1,1934.1 829.3,1927.3 832.4,2029.4 835.5,2030.4 838.6,2006.4 841.7,2039.9 844.8,2040.5 847.9,2078.3 851.0,2040.5 854.1,2025.6 857.2,1994.5 860.3,1988.8 863.5,1956.5 866.6,1989.1 869.7,1987.2 872.8,1982.4 875.9,2039.9 879.0,2071.9 882.1,2072.1 885.2,2064.4 888.3,2035.1 891.4,2065.4 894.5,2063.9 897.7,2045.9 900.8,1992.0 903.9,2027.4 907.0,2020.8 910.1,2048.2 913.2,2024.5 916.3,2064.6 919.4,2054.3 922.5,2062.0 925.6,2014.4 928.7,2016.0 931.9,1998.4 935.0,2024.9 938.1,2006.4 941.2,2037.4 944.3,2039.9 947.4,2099.2 950.5,2103.9 953.6,2159.8 956.7,2063.9 959.8,2047.7 962.9,1996.8 966.1,2073.3 969.2,2122.2 972.3,2196.7 975.4,2087.9 978.5,2072.9 981.6,2022.4 984.7,2011.2 987.8,2116.6 990.9,2088.6 994.0,2030.3 997.1,2097.8 1000.3,2146.4 1003.4,2080.9 1006.5,1996.8 1009.6,2087.9 1012.7,2128.2 1015.8,2118.0 1018.9,2051.8 1022.0,2035.1 1025.1,2025.6 1028.2,2063.9 1031.3,2049.5 1034.4,2063.9 1037.6,2039.9 1040.7,2102.3 1043.8,2087.9 1046.9,2185.9 1050.0,2141.5 1053.1,2203.4 1056.2,2069.8 1059.3,2083.1 1062.4,2081.5 1065.5,2219.7 1068.6,2205.3 1071.8,2216.9 1074.9,2095.1 1078.0,2145.9 1081.1,2135.8 1084.2,2232.9 1087.3,2279.6 1090.4,2380.8 1093.5,2279.6 1096.6,2350.0 1099.7,2372.2 1102.8,2288.5 1106.0,2074.9 1109.1,2174.2 1112.2,2159.8 1115.3,2250.2 1118.4,2270.1 1121.5,2244.0 1124.6,2159.8 1127.7,2167.5 1130.8,2089.8 1133.9,2198.1 1137.0,2183.8 1140.2,2286.4 1143.3,2272.0 1146.4,2131.0 1149.5,2129.5 1152.6,2267.2 1155.7,2183.8 1158.8,2275.1 1161.9,2183.8 1165.0,2278.8 1168.1,2214.2 1171.2,2265.3 1174.4,2183.8 1177.5,2164.0 1180.6,2097.5 1183.7,2298.8 1186.8,2200.5 1189.9,2131.0 1193.0,2150.2 1196.1,2198.1 1199.2,2177.4 1202.3,2212.5 1205.4,2179.0 1208.6,2207.7 1211.7,2193.4 1214.8,2207.7 1217.9,2159.8 1221.0,2162.7 1224.1,2066.3 1227.2,2248.9 1230.3,2337.2 1233.4,2250.0 1236.5,2095.1 1239.6,2231.7 1242.8,2286.3 1245.9,2395.7 1249.0,2255.7 1252.1,2236.9 1255.2,2150.2 1258.3,2349.2 1261.4,2248.5 1264.5,2207.7 1267.6,2128.6 1270.7,2078.3 1273.8,2121.4 1277.0,2150.2 1280.1,2135.8 1283.2,2189.8 1286.3,2183.8 1289.4,2319.0 1292.5,2187.8 1295.6,2188.6 1298.7,2231.7 1301.8,2159.8 1304.9,2115.4 1308.0,2099.9" fill="none" stroke="#A5A5A5" stroke-width="8" stroke-linejoin="round" stroke-linecap="round"/>
<text transform="translate(187.35,2419) rotate(-90)" text-anchor="end" font-family="Liberation Sans, sans-serif" font-size="31.5" fill="#666666" textLength="16.8" lengthAdjust="spacingAndGlyphs">1</text>
<text transform="translate(230.88,2419) rotate(-90)" text-anchor="end" font-family="Liberation Sans, sans-serif" font-size="31.5" fill="#666666" textLength="33.6" lengthAdjust="spacingAndGlyphs">15</text>
<text transform="translate(274.41,2419) rotate(-90)" text-anchor="end" font-family="Liberation Sans, sans-serif" font-size="31.5" fill="#666666" textLength="33.6" lengthAdjust="spacingAndGlyphs">29</text>
<text transform="translate(317.93,2419) rotate(-90)" text-anchor="end" font-family="Liberation Sans, sans-serif" font-size="31.5" fill="#666666" textLength="33.6" lengthAdjust="spacingAndGlyphs">43</text>
<text transform="translate(361.46,2419) rotate(-90)" text-anchor="end" font-family="Liberation Sans, sans-serif" font-size="31.5" fill="#666666" textLength="33.6" lengthAdjust="spacingAndGlyphs">57</text>
<text transform="translate(404.99,2419) rotate(-90)" text-anchor="end" font-family="Liberation Sans, sans-serif" font-size="31.5" fill="#666666" textLength="33.6" lengthAdjust="spacingAndGlyphs">71</text>
<text transform="translate(448.51,2419) rotate(-90)" text-anchor="end" font-family="Liberation Sans, sans-serif" font-size="31.5" fill="#666666" textLength="33.6" lengthAdjust="spacingAndGlyphs">85</text>
<text transform="translate(492.04,2419) rotate(-90)" text-anchor="end" font-family="Liberation Sans, sans-serif" font-size="31.5" fill="#666666" textLength="33.6" lengthAdjust="spacingAndGlyphs">99</text>
<text transform="translate(535.57,2419) rotate(-90)" text-anchor="end" font-family="Liberation Sans, sans-serif" font-size="31.5" fill="#666666" textLength="50.4" lengthAdjust="spacingAndGlyphs">113</text>
<text transform="translate(579.09,2419) rotate(-90)" text-anchor="end" font-family="Liberation Sans, sans-serif" font-size="31.5" fill="#666666" textLength="50.4" lengthAdjust="spacingAndGlyphs">127</text>
<text transform="translate(622.62,2419) rotate(-90)" text-anchor="end" font-family="Liberation Sans, sans-serif" font-size="31.5" fill="#666666" textLength="50.4" lengthAdjust="spacingAndGlyphs">141</text>
<text transform="translate(666.15,2419) rotate(-90)" text-anchor="end" font-family="Liberation Sans, sans-serif" font-size="31.5" fill="#666666" textLength="50.4" lengthAdjust="spacingAndGlyphs">155</text>
<text transform="translate(709.67,2419) rotate(-90)" text-anchor="end" font-family="Liberation Sans, sans-serif" font-size="31.5" fill="#666666" textLength="50.4" lengthAdjust="spacingAndGlyphs">169</text>
<text transform="translate(753.20,2419) rotate(-90)" text-anchor="end" font-family="Liberation Sans, sans-serif" font-size="31.5" fill="#666666" textLength="50.4" lengthAdjust="spacingAndGlyphs">183</text>
<text transform="translate(796.73,2419) rotate(-90)" text-anchor="end" font-family="Liberation Sans, sans-serif" font-size="31.5" fill="#666666" textLength="50.4" lengthAdjust="spacingAndGlyphs">197</text>
<text transform="translate(840.25,2419) rotate(-90)" text-anchor="end" font-family="Liberation Sans, sans-serif" font-size="31.5" fill="#666666" textLength="50.4" lengthAdjust="spacingAndGlyphs">211</text>
<text transform="translate(883.78,2419) rotate(-90)" text-anchor="end" font-family="Liberation Sans, sans-serif" font-size="31.5" fill="#666666" textLength="50.4" lengthAdjust="spacingAndGlyphs">225</text>
<text transform="translate(927.31,2419) rotate(-90)" text-anchor="end" font-family="Liberation Sans, sans-serif" font-size="31.5" fill="#666666" textLength="50.4" lengthAdjust="spacingAndGlyphs">239</text>
<text transform="translate(970.83,2419) rotate(-90)" text-anchor="end" font-family="Liberation Sans, sans-serif" font-size="31.5" fill="#666666" textLength="50.4" lengthAdjust="spacingAndGlyphs">253</text>
<text transform="translate(1014.36,2419) rotate(-90)" text-anchor="end" font-family="Liberation Sans, sans-serif" font-size="31.5" fill="#666666" textLength="50.4" lengthAdjust="spacingAndGlyphs">267</text>
<text transform="translate(1057.89,2419) rotate(-90)" text-anchor="end" font-family="Liberation Sans, sans-serif" font-size="31.5" fill="#666666" textLength="50.4" lengthAdjust="spacingAndGlyphs">281</text>
<text transform="translate(1101.41,2419) rotate(-90)" text-anchor="end" font-family="Liberation Sans, sans-serif" font-size="31.5" fill="#666666" textLength="50.4" lengthAdjust="spacingAndGlyphs">295</text>
<text transform="translate(1144.94,2419) rotate(-90)" text-anchor="end" font-family="Liberation Sans, sans-serif" font-size="31.5" fill="#666666" textLength="50.4" lengthAdjust="spacingAndGlyphs">309</text>
<text transform="translate(1188.47,2419) rotate(-90)" text-anchor="end" font-family="Liberation Sans, sans-serif" font-size="31.5" fill="#666666" textLength="50.4" lengthAdjust="spacingAndGlyphs">323</text>
<text transform="translate(1231.99,2419) rotate(-90)" text-anchor="end" font-family="Liberation Sans, sans-serif" font-size="31.5" fill="#666666" textLength="50.4" lengthAdjust="spacingAndGlyphs">337</text>
<text transform="translate(1275.52,2419) rotate(-90)" text-anchor="end" font-family="Liberation Sans, sans-serif" font-size="31.5" fill="#666666" textLength="50.4" lengthAdjust="spacingAndGlyphs">351</text>
<text transform="translate(1319.05,2419) rotate(-90)" text-anchor="end" font-family="Liberation Sans, sans-serif" font-size="31.5" fill="#666666" textLength="50.4" lengthAdjust="spacingAndGlyphs">365</text>
<text x="742.6" y="2516.3" text-anchor="middle" font-family="Liberation Sans, sans-serif" font-size="29" fill="#666666" textLength="71.5" lengthAdjust="spacingAndGlyphs">Days</text>
<text transform="translate(88,2110) rotate(-90)" text-anchor="middle" font-family="Liberation Sans, sans-serif" font-size="32.8" fill="#666666" textLength="500" lengthAdjust="spacingAndGlyphs">Measured Daily Energy (kWh/m<tspan font-size="20.3" dy="-10.8">2</tspan><tspan dy="10.8">)</tspan></text>
<line x1="779.5" y1="1858.4" x2="850.8" y2="1858.4" stroke="#5B9BD5" stroke-width="8" stroke-linecap="round"/>
<text x="859.5" y="1868.4" font-family="Liberation Sans, sans-serif" font-size="31.5" fill="#666666" textLength="68.8" lengthAdjust="spacingAndGlyphs">2017</text>
<line x1="960.8" y1="1858.4" x2="1032" y2="1858.4" stroke="#ED7D31" stroke-width="8" stroke-linecap="round"/>
<text x="1040.7" y="1868.4" font-family="Liberation Sans, sans-serif" font-size="31.5" fill="#666666" textLength="71.2" lengthAdjust="spacingAndGlyphs">2018</text>
<line x1="1141" y1="1858.4" x2="1213.8" y2="1858.4" stroke="#A5A5A5" stroke-width="8" stroke-linecap="round"/>
<text x="1221.1" y="1868.4" font-family="Liberation Sans, sans-serif" font-size="31.5" fill="#666666" textLength="71.2" lengthAdjust="spacingAndGlyphs">2019</text>
<text x="755.5" y="2643" text-anchor="middle" font-family="Liberation Serif, serif" font-size="47" fill="#000">(c)</text>
</svg>
</body></html>
